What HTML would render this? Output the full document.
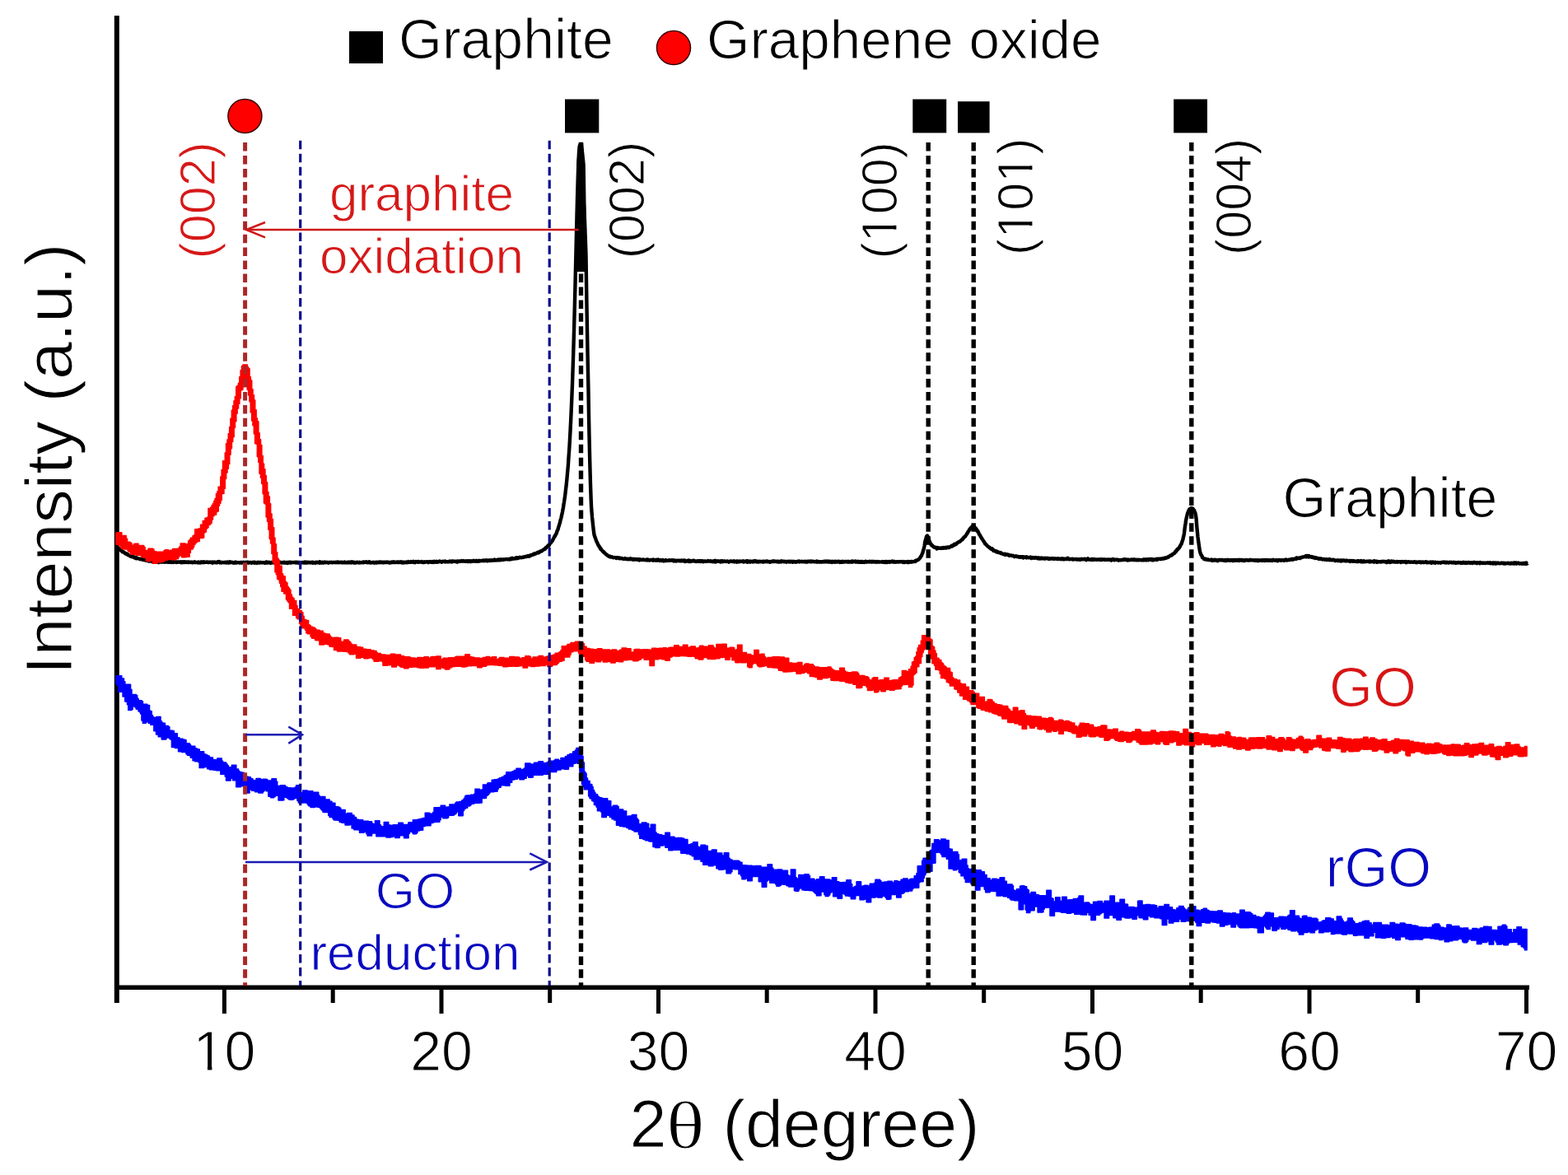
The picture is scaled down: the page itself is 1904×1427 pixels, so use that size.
<!DOCTYPE html>
<html><head><meta charset="utf-8"><title>XRD</title>
<style>
html,body{margin:0;padding:0;background:#fff;}
svg{display:block;filter:blur(0.45px);}
text{font-family:"Liberation Sans", Arial, sans-serif;stroke:#fff;stroke-width:1.1px;paint-order:fill;}
</style></head>
<body>
<svg width="1904" height="1427" viewBox="0 0 1904 1427">
<rect width="1904" height="1427" fill="#fff"/>
<line x1="141.8" y1="19" x2="141.8" y2="1218" stroke="#000" stroke-width="6"/>
<line x1="139" y1="1199.2" x2="1857" y2="1199.2" stroke="#000" stroke-width="5.6"/>
<line x1="272.4" y1="1199" x2="272.4" y2="1231" stroke="#000" stroke-width="5"/>
<line x1="404.2" y1="1199" x2="404.2" y2="1218" stroke="#000" stroke-width="5"/>
<line x1="536.0" y1="1199" x2="536.0" y2="1231" stroke="#000" stroke-width="5"/>
<line x1="667.7" y1="1199" x2="667.7" y2="1218" stroke="#000" stroke-width="5"/>
<line x1="799.5" y1="1199" x2="799.5" y2="1231" stroke="#000" stroke-width="5"/>
<line x1="931.2" y1="1199" x2="931.2" y2="1218" stroke="#000" stroke-width="5"/>
<line x1="1063.0" y1="1199" x2="1063.0" y2="1231" stroke="#000" stroke-width="5"/>
<line x1="1194.7" y1="1199" x2="1194.7" y2="1218" stroke="#000" stroke-width="5"/>
<line x1="1326.5" y1="1199" x2="1326.5" y2="1231" stroke="#000" stroke-width="5"/>
<line x1="1458.2" y1="1199" x2="1458.2" y2="1218" stroke="#000" stroke-width="5"/>
<line x1="1590.0" y1="1199" x2="1590.0" y2="1231" stroke="#000" stroke-width="5"/>
<line x1="1721.7" y1="1199" x2="1721.7" y2="1218" stroke="#000" stroke-width="5"/>
<line x1="1853.5" y1="1199" x2="1853.5" y2="1231" stroke="#000" stroke-width="5"/>
<text x="272.4" y="1300" text-anchor="middle" font-size="68">10</text>
<text x="536.0" y="1300" text-anchor="middle" font-size="68">20</text>
<text x="799.5" y="1300" text-anchor="middle" font-size="68">30</text>
<text x="1063.0" y="1300" text-anchor="middle" font-size="68">40</text>
<text x="1326.5" y="1300" text-anchor="middle" font-size="68">50</text>
<text x="1590.0" y="1300" text-anchor="middle" font-size="68">60</text>
<text x="1853.5" y="1300" text-anchor="middle" font-size="68">70</text>
<path d="M141.0 662.9L141.5 663.5L142.0 663.9L142.5 664.2L143.0 664.9L143.5 665.2L144.0 666.0L144.5 666.9L145.0 666.8L145.5 667.2L146.0 668.0L146.5 668.4L147.0 668.7L147.5 668.8L148.0 669.5L148.5 670.1L149.0 669.8L149.5 670.4L150.0 670.3L150.5 670.8L151.0 671.0L151.5 671.8L152.0 671.7L152.5 672.5L153.0 672.7L153.5 672.9L154.0 672.5L154.5 673.3L155.0 673.7L155.5 674.0L156.0 673.8L156.5 674.3L157.0 674.4L157.5 674.7L158.0 675.4L158.5 675.1L159.0 675.5L159.5 676.0L160.0 675.7L160.5 676.0L161.0 676.3L161.5 676.4L162.0 676.2L162.5 676.8L163.0 677.3L163.5 676.6L164.0 677.5L164.5 677.4L165.0 677.3L165.5 678.2L166.0 678.0L166.5 677.5L167.0 678.1L167.5 678.3L168.0 678.2L168.5 678.6L169.0 678.5L169.5 678.9L170.0 679.2L170.5 678.7L171.0 679.1L171.5 679.0L172.0 679.3L172.5 679.0L173.0 679.3L173.5 679.5L174.0 680.0L174.5 680.1L175.0 679.5L175.5 679.8L176.0 680.3L176.5 679.6L177.0 680.2L177.5 680.4L178.0 680.9L178.5 680.9L179.0 680.7L179.5 680.8L180.0 680.9L180.5 681.5L181.0 681.1L181.5 681.2L182.0 681.5L182.5 681.5L183.0 681.5L183.5 681.4L184.0 681.8L184.5 681.7L185.0 682.3L185.5 682.2L186.0 682.1L186.5 682.3L187.0 682.1L187.5 682.6L188.0 682.3L188.5 682.5L189.0 682.0L189.5 682.5L190.0 681.9L190.5 681.8L191.0 682.3L191.5 682.1L192.0 682.5L192.5 683.1L193.0 682.2L193.5 682.2L194.0 682.5L194.5 682.6L195.0 682.4L195.5 682.4L196.0 682.7L196.5 682.6L197.0 682.2L197.5 682.4L198.0 682.5L198.5 682.2L199.0 682.6L199.5 682.2L200.0 682.8L200.5 682.6L201.0 682.5L201.5 682.3L202.0 682.5L202.5 681.9L203.0 682.2L203.5 682.6L204.0 681.9L204.5 682.8L205.0 682.0L205.5 682.8L206.0 682.3L206.5 682.8L207.0 682.6L207.5 682.1L208.0 683.0L208.5 683.0L209.0 682.6L209.5 682.5L210.0 682.6L210.5 682.3L211.0 682.9L211.5 682.5L212.0 682.6L212.5 682.4L213.0 682.5L213.5 682.3L214.0 683.0L214.5 682.6L215.0 682.9L215.5 682.7L216.0 682.5L216.5 682.6L217.0 682.5L217.5 682.7L218.0 682.6L218.5 682.6L219.0 682.3L219.5 682.5L220.0 683.2L220.5 682.5L221.0 682.4L221.5 682.8L222.0 683.1L222.5 682.3L223.0 682.7L223.5 682.5L224.0 682.2L224.5 683.0L225.0 682.7L225.5 682.8L226.0 682.5L226.5 682.9L227.0 682.6L227.5 682.7L228.0 682.4L228.5 682.4L229.0 683.2L229.5 682.6L230.0 682.9L230.5 682.8L231.0 682.7L231.5 682.7L232.0 683.0L232.5 682.7L233.0 682.8L233.5 682.8L234.0 683.2L234.5 683.0L235.0 682.9L235.5 682.7L236.0 682.4L236.5 683.1L237.0 683.1L237.5 682.8L238.0 683.0L238.5 683.1L239.0 683.1L239.5 683.1L240.0 682.7L240.5 683.3L241.0 682.5L241.5 683.1L242.0 683.0L242.5 683.1L243.0 683.5L243.5 683.3L244.0 682.6L244.5 682.4L245.0 683.2L245.5 682.6L246.0 682.9L246.5 683.2L247.0 682.4L247.5 682.3L248.0 683.0L248.5 682.9L249.0 682.9L249.5 682.9L250.0 682.7L250.5 682.5L251.0 682.9L251.5 682.7L252.0 682.5L252.5 683.1L253.0 682.9L253.5 683.1L254.0 682.7L254.5 682.8L255.0 682.7L255.5 682.7L256.0 683.0L256.5 682.7L257.0 683.1L257.5 683.1L258.0 683.6L258.5 682.6L259.0 683.3L259.5 683.0L260.0 683.0L260.5 682.6L261.0 682.9L261.5 683.2L262.0 683.0L262.5 683.0L263.0 682.9L263.5 683.4L264.0 683.0L264.5 682.4L265.0 682.8L265.5 682.4L266.0 682.1L266.5 682.9L267.0 683.4L267.5 683.1L268.0 682.7L268.5 682.8L269.0 683.4L269.5 683.1L270.0 683.1L270.5 683.0L271.0 683.1L271.5 683.3L272.0 683.2L272.5 683.1L273.0 682.8L273.5 683.2L274.0 682.9L274.5 683.4L275.0 682.7L275.5 683.0L276.0 683.1L276.5 682.7L277.0 683.6L277.5 683.5L278.0 682.9L278.5 683.3L279.0 683.2L279.5 682.3L280.0 683.2L280.5 683.1L281.0 683.1L281.5 682.8L282.0 683.0L282.5 683.1L283.0 683.5L283.5 683.2L284.0 683.1L284.5 683.6L285.0 682.9L285.5 683.0L286.0 682.6L286.5 683.6L287.0 683.4L287.5 683.4L288.0 683.3L288.5 683.2L289.0 683.2L289.5 683.1L290.0 683.1L290.5 683.2L291.0 683.6L291.5 683.3L292.0 683.1L292.5 683.0L293.0 683.0L293.5 683.6L294.0 683.3L294.5 683.2L295.0 683.0L295.5 682.8L296.0 683.1L296.5 683.4L297.0 683.0L297.5 683.1L298.0 683.1L298.5 683.2L299.0 682.7L299.5 683.1L300.0 682.9L300.5 683.4L301.0 682.9L301.5 683.3L302.0 683.6L302.5 683.1L303.0 683.0L303.5 683.2L304.0 683.2L304.5 682.9L305.0 683.3L305.5 683.8L306.0 683.1L306.5 683.1L307.0 682.9L307.5 683.3L308.0 682.8L308.5 682.9L309.0 683.6L309.5 682.9L310.0 683.5L310.5 683.6L311.0 683.3L311.5 683.4L312.0 683.8L312.5 683.1L313.0 683.0L313.5 682.8L314.0 683.2L314.5 683.6L315.0 683.5L315.5 682.9L316.0 682.9L316.5 683.0L317.0 683.3L317.5 683.1L318.0 683.3L318.5 683.3L319.0 683.1L319.5 683.2L320.0 683.3L320.5 683.2L321.0 683.4L321.5 683.8L322.0 683.4L322.5 683.2L323.0 682.7L323.5 683.3L324.0 682.6L324.5 682.8L325.0 683.5L325.5 683.4L326.0 683.2L326.5 682.7L327.0 683.1L327.5 683.0L328.0 683.4L328.5 683.9L329.0 683.3L329.5 683.0L330.0 682.9L330.5 683.2L331.0 683.2L331.5 682.9L332.0 683.3L332.5 682.9L333.0 683.6L333.5 683.5L334.0 683.5L334.5 683.1L335.0 683.4L335.5 683.2L336.0 683.1L336.5 683.1L337.0 682.8L337.5 682.8L338.0 683.5L338.5 683.2L339.0 683.3L339.5 683.5L340.0 682.7L340.5 683.0L341.0 683.3L341.5 683.3L342.0 683.1L342.5 683.5L343.0 683.3L343.5 682.9L344.0 682.9L344.5 683.5L345.0 683.4L345.5 682.7L346.0 683.6L346.5 683.4L347.0 683.6L347.5 683.1L348.0 683.1L348.5 682.9L349.0 684.0L349.5 683.2L350.0 683.7L350.5 683.0L351.0 683.3L351.5 682.7L352.0 683.1L352.5 683.5L353.0 682.9L353.5 683.5L354.0 683.3L354.5 682.9L355.0 683.1L355.5 683.1L356.0 683.2L356.5 683.1L357.0 683.0L357.5 683.1L358.0 682.9L358.5 682.8L359.0 683.2L359.5 683.5L360.0 682.8L360.5 683.2L361.0 683.0L361.5 682.9L362.0 683.5L362.5 683.1L363.0 683.7L363.5 683.0L364.0 683.3L364.5 683.2L365.0 683.0L365.5 683.4L366.0 683.2L366.5 683.4L367.0 683.2L367.5 682.9L368.0 683.2L368.5 683.2L369.0 683.5L369.5 682.9L370.0 683.2L370.5 682.7L371.0 683.4L371.5 682.9L372.0 682.7L372.5 683.2L373.0 683.5L373.5 682.8L374.0 682.9L374.5 683.0L375.0 682.9L375.5 683.3L376.0 683.0L376.5 683.0L377.0 683.4L377.5 683.0L378.0 683.3L378.5 682.9L379.0 682.8L379.5 682.7L380.0 683.8L380.5 683.1L381.0 683.3L381.5 683.2L382.0 683.2L382.5 683.2L383.0 683.8L383.5 682.9L384.0 682.7L384.5 682.9L385.0 682.8L385.5 683.4L386.0 683.4L386.5 682.9L387.0 682.8L387.5 683.1L388.0 683.6L388.5 682.3L389.0 683.3L389.5 682.9L390.0 683.5L390.5 682.9L391.0 683.1L391.5 682.7L392.0 682.9L392.5 683.6L393.0 683.4L393.5 683.1L394.0 682.9L394.5 682.6L395.0 683.1L395.5 683.2L396.0 683.2L396.5 683.1L397.0 682.8L397.5 683.2L398.0 683.2L398.5 683.6L399.0 683.7L399.5 683.1L400.0 682.9L400.5 683.1L401.0 683.0L401.5 682.9L402.0 683.1L402.5 682.8L403.0 683.3L403.5 683.1L404.0 683.2L404.5 683.1L405.0 682.9L405.5 682.9L406.0 683.1L406.5 683.0L407.0 683.2L407.5 683.1L408.0 682.7L408.5 683.2L409.0 682.7L409.5 683.0L410.0 683.1L410.5 682.5L411.0 683.2L411.5 683.2L412.0 683.1L412.5 683.0L413.0 683.0L413.5 682.8L414.0 683.1L414.5 683.0L415.0 683.2L415.5 682.8L416.0 683.2L416.5 683.2L417.0 683.1L417.5 683.0L418.0 683.3L418.5 682.6L419.0 683.3L419.5 683.2L420.0 683.2L420.5 683.2L421.0 682.9L421.5 683.0L422.0 683.3L422.5 683.2L423.0 683.2L423.5 682.6L424.0 683.3L424.5 683.4L425.0 683.4L425.5 683.2L426.0 682.6L426.5 683.4L427.0 683.0L427.5 682.3L428.0 683.2L428.5 682.6L429.0 682.7L429.5 682.9L430.0 683.5L430.5 683.0L431.0 683.2L431.5 683.6L432.0 683.5L432.5 683.0L433.0 683.0L433.5 682.7L434.0 682.9L434.5 683.2L435.0 683.2L435.5 683.1L436.0 683.4L436.5 682.8L437.0 683.0L437.5 683.3L438.0 683.2L438.5 683.4L439.0 683.2L439.5 682.9L440.0 683.1L440.5 682.7L441.0 682.5L441.5 683.2L442.0 683.0L442.5 683.1L443.0 682.5L443.5 682.9L444.0 682.8L444.5 682.8L445.0 682.3L445.5 682.9L446.0 683.3L446.5 683.1L447.0 682.8L447.5 683.0L448.0 683.2L448.5 682.2L449.0 683.0L449.5 683.2L450.0 683.2L450.5 683.5L451.0 683.3L451.5 683.1L452.0 683.1L452.5 683.2L453.0 682.8L453.5 683.0L454.0 683.2L454.5 683.6L455.0 682.9L455.5 682.9L456.0 683.0L456.5 683.4L457.0 682.9L457.5 683.4L458.0 682.7L458.5 682.9L459.0 682.9L459.5 683.2L460.0 683.2L460.5 682.5L461.0 682.7L461.5 683.0L462.0 682.7L462.5 682.5L463.0 683.2L463.5 683.1L464.0 683.1L464.5 682.8L465.0 683.2L465.5 682.8L466.0 683.2L466.5 682.6L467.0 682.6L467.5 683.0L468.0 682.7L468.5 683.1L469.0 683.0L469.5 682.6L470.0 682.9L470.5 682.8L471.0 683.1L471.5 682.7L472.0 682.7L472.5 683.2L473.0 683.5L473.5 683.5L474.0 682.9L474.5 682.9L475.0 683.3L475.5 682.8L476.0 682.5L476.5 682.9L477.0 683.0L477.5 682.6L478.0 682.3L478.5 682.4L479.0 683.0L479.5 682.6L480.0 682.8L480.5 682.9L481.0 683.0L481.5 682.7L482.0 682.9L482.5 682.5L483.0 682.7L483.5 682.5L484.0 683.1L484.5 682.8L485.0 682.5L485.5 682.7L486.0 682.7L486.5 683.0L487.0 682.3L487.5 682.4L488.0 682.6L488.5 683.5L489.0 683.0L489.5 682.7L490.0 682.9L490.5 683.3L491.0 682.6L491.5 682.6L492.0 683.1L492.5 682.9L493.0 682.9L493.5 682.5L494.0 683.3L494.5 683.2L495.0 682.9L495.5 682.9L496.0 682.1L496.5 682.9L497.0 682.6L497.5 682.8L498.0 682.9L498.5 682.6L499.0 682.1L499.5 682.8L500.0 682.4L500.5 682.5L501.0 682.4L501.5 682.5L502.0 681.9L502.5 683.0L503.0 682.7L503.5 682.9L504.0 683.2L504.5 682.6L505.0 682.0L505.5 682.3L506.0 682.2L506.5 682.4L507.0 682.6L507.5 682.0L508.0 682.7L508.5 682.1L509.0 682.6L509.5 682.5L510.0 682.4L510.5 682.5L511.0 682.4L511.5 682.3L512.0 682.0L512.5 682.5L513.0 683.1L513.5 683.1L514.0 682.9L514.5 682.7L515.0 682.3L515.5 682.9L516.0 682.5L516.5 682.4L517.0 682.4L517.5 682.5L518.0 682.3L518.5 682.4L519.0 682.1L519.5 682.3L520.0 683.1L520.5 682.4L521.0 682.3L521.5 682.6L522.0 682.6L522.5 682.1L523.0 682.3L523.5 682.7L524.0 682.5L524.5 682.4L525.0 682.8L525.5 682.1L526.0 682.4L526.5 682.2L527.0 682.8L527.5 681.7L528.0 682.1L528.5 682.2L529.0 682.5L529.5 682.5L530.0 682.7L530.5 681.8L531.0 682.5L531.5 682.2L532.0 682.1L532.5 682.4L533.0 682.0L533.5 681.6L534.0 682.1L534.5 681.8L535.0 682.0L535.5 682.3L536.0 682.3L536.5 682.7L537.0 682.1L537.5 681.7L538.0 681.9L538.5 681.9L539.0 681.8L539.5 682.3L540.0 681.9L540.5 681.5L541.0 682.3L541.5 682.1L542.0 682.2L542.5 682.1L543.0 682.3L543.5 682.1L544.0 682.4L544.5 682.2L545.0 682.2L545.5 682.2L546.0 681.6L546.5 682.0L547.0 681.9L547.5 682.1L548.0 681.6L548.5 682.5L549.0 682.0L549.5 681.6L550.0 681.4L550.5 681.9L551.0 681.9L551.5 681.7L552.0 681.9L552.5 681.7L553.0 682.1L553.5 681.7L554.0 681.9L554.5 682.2L555.0 682.6L555.5 681.5L556.0 681.7L556.5 681.6L557.0 682.0L557.5 681.5L558.0 681.6L558.5 681.8L559.0 681.5L559.5 681.5L560.0 681.6L560.5 681.1L561.0 681.3L561.5 681.6L562.0 681.7L562.5 681.6L563.0 681.1L563.5 681.5L564.0 681.9L564.5 681.8L565.0 681.6L565.5 681.3L566.0 681.8L566.5 681.4L567.0 681.2L567.5 681.3L568.0 682.0L568.5 681.6L569.0 681.9L569.5 681.4L570.0 681.8L570.5 681.3L571.0 681.4L571.5 682.2L572.0 681.7L572.5 681.3L573.0 681.4L573.5 681.5L574.0 681.7L574.5 681.2L575.0 680.8L575.5 681.2L576.0 681.3L576.5 681.3L577.0 681.7L577.5 681.4L578.0 681.5L578.5 680.9L579.0 681.5L579.5 681.8L580.0 681.4L580.5 681.2L581.0 681.2L581.5 681.7L582.0 680.8L582.5 681.1L583.0 681.2L583.5 681.3L584.0 680.9L584.5 681.1L585.0 680.9L585.5 681.0L586.0 680.9L586.5 680.6L587.0 680.9L587.5 681.2L588.0 680.6L588.5 680.8L589.0 681.0L589.5 680.5L590.0 680.8L590.5 680.4L591.0 681.1L591.5 681.4L592.0 681.3L592.5 680.6L593.0 680.9L593.5 680.7L594.0 680.6L594.5 681.0L595.0 680.2L595.5 680.8L596.0 680.5L596.5 680.9L597.0 680.5L597.5 680.2L598.0 680.5L598.5 680.6L599.0 680.3L599.5 680.5L600.0 680.1L600.5 679.6L601.0 680.5L601.5 680.4L602.0 680.2L602.5 680.2L603.0 680.4L603.5 679.9L604.0 679.8L604.5 680.0L605.0 680.3L605.5 679.5L606.0 680.3L606.5 679.7L607.0 679.5L607.5 680.2L608.0 679.7L608.5 679.3L609.0 679.6L609.5 679.9L610.0 680.0L610.5 679.5L611.0 679.7L611.5 679.7L612.0 679.3L612.5 679.5L613.0 679.4L613.5 679.2L614.0 679.2L614.5 679.3L615.0 679.2L615.5 679.0L616.0 679.0L616.5 679.4L617.0 679.1L617.5 679.2L618.0 679.3L618.5 679.1L619.0 679.5L619.5 678.5L620.0 679.0L620.5 678.6L621.0 679.2L621.5 679.1L622.0 677.9L622.5 678.2L623.0 678.6L623.5 678.6L624.0 678.5L624.5 678.2L625.0 678.3L625.5 678.3L626.0 678.0L626.5 678.3L627.0 677.2L627.5 678.0L628.0 677.4L628.5 678.0L629.0 677.5L629.5 677.3L630.0 677.6L630.5 677.1L631.0 677.0L631.5 676.8L632.0 677.1L632.5 677.2L633.0 677.3L633.5 676.9L634.0 677.1L634.5 676.7L635.0 676.6L635.5 676.7L636.0 676.8L636.5 676.2L637.0 676.2L637.5 676.1L638.0 676.1L638.5 675.7L639.0 676.1L639.5 675.6L640.0 675.7L640.5 675.2L641.0 675.5L641.5 675.4L642.0 675.0L642.5 675.6L643.0 675.0L643.5 675.3L644.0 674.9L644.5 674.2L645.0 674.2L645.5 674.3L646.0 674.0L646.5 673.9L647.0 673.6L647.5 673.0L648.0 673.3L648.5 672.5L649.0 673.1L649.5 672.6L650.0 672.4L650.5 672.4L651.0 672.3L651.5 671.6L652.0 671.3L652.5 671.3L653.0 670.8L653.5 670.9L654.0 671.4L654.5 670.4L655.0 670.6L655.5 669.8L656.0 670.0L656.5 669.6L657.0 669.4L657.5 669.3L658.0 669.3L658.5 668.6L659.0 668.2L659.5 667.6L660.0 667.7L660.5 667.1L661.0 667.1L661.5 666.4L662.0 666.6L662.5 665.1L663.0 665.2L663.5 665.1L664.0 664.3L664.5 663.7L665.0 663.4L665.5 662.5L666.0 662.5L666.5 662.7L667.0 661.7L667.5 660.5L668.0 659.9L668.5 659.5L669.0 659.3L669.5 658.0L670.0 657.4L670.5 657.1L671.0 656.4L671.5 655.2L672.0 654.2L672.5 653.2L673.0 652.5L673.5 651.1L674.0 651.1L674.5 649.6L675.0 648.9L675.5 648.2L676.0 646.8L676.5 644.8L677.0 644.1L677.5 642.9L678.0 640.9L678.5 639.3L679.0 637.9L679.5 635.8L680.0 634.9L680.5 631.9L681.0 630.3L681.5 628.5L682.0 626.3L682.5 624.0L683.0 621.6L683.5 618.8L684.0 616.4L684.5 612.4L685.0 609.8L685.5 606.2L686.0 602.9L686.5 599.0L687.0 594.5L687.5 590.2L688.0 585.9L688.5 580.7L689.0 574.9L689.5 569.9L690.0 563.6L690.5 555.7L691.0 548.9L691.5 541.7L692.0 532.7L692.5 523.4L693.0 513.4L693.5 502.7L694.0 491.3L694.5 478.9L695.0 466.0L695.5 451.3L696.0 436.0L696.5 419.5L697.0 402.5L697.5 383.9L698.0 364.8L698.5 345.1L699.0 324.2L699.5 303.3L700.0 282.2L700.5 261.6L701.0 241.9L701.5 223.8L702.0 208.2L702.5 194.5L703.0 185.3L703.5 178.8L704.0 176.5L704.5 182.7L705.0 188.6L705.5 194.8L706.0 200.4L706.5 206.8L707.0 211.9L707.5 221.2L708.0 231.3L708.5 240.2L709.0 250.0L709.5 259.3L710.0 268.0L710.5 281.3L711.0 295.0L711.5 308.8L712.0 341.6L712.5 371.7L713.0 399.6L713.5 428.0L714.0 452.9L714.5 475.3L715.0 504.5L715.5 529.7L716.0 550.9L716.5 570.9L717.0 588.2L717.5 602.4L718.0 614.8L718.5 621.4L719.0 627.9L719.5 632.2L720.0 637.3L720.5 641.6L721.0 645.7L721.5 649.4L722.0 651.1L722.5 652.5L723.0 653.6L723.5 655.1L724.0 656.7L724.5 657.8L725.0 658.6L725.5 659.8L726.0 661.0L726.5 662.1L727.0 662.7L727.5 663.7L728.0 664.0L728.5 665.1L729.0 666.6L729.5 666.1L730.0 667.3L730.5 668.0L731.0 668.4L731.5 668.8L732.0 669.6L732.5 670.1L733.0 670.6L733.5 670.5L734.0 671.5L734.5 671.7L735.0 672.2L735.5 672.8L736.0 673.3L736.5 673.8L737.0 673.7L737.5 674.5L738.0 674.9L738.5 675.2L739.0 675.5L739.5 675.4L740.0 675.6L740.5 676.2L741.0 675.8L741.5 676.5L742.0 676.5L742.5 676.6L743.0 676.2L743.5 676.6L744.0 676.9L744.5 677.2L745.0 677.3L745.5 677.1L746.0 677.1L746.5 677.0L747.0 677.4L747.5 677.3L748.0 677.6L748.5 678.0L749.0 677.5L749.5 677.1L750.0 677.4L750.5 677.3L751.0 677.4L751.5 678.2L752.0 677.9L752.5 677.5L753.0 678.2L753.5 678.4L754.0 678.0L754.5 677.9L755.0 678.1L755.5 678.3L756.0 678.5L756.5 678.7L757.0 678.7L757.5 678.8L758.0 678.9L758.5 678.7L759.0 678.1L759.5 678.6L760.0 678.8L760.5 678.6L761.0 679.0L761.5 678.7L762.0 678.6L762.5 679.3L763.0 679.1L763.5 679.0L764.0 679.2L764.5 679.3L765.0 679.1L765.5 678.3L766.0 678.9L766.5 679.0L767.0 678.8L767.5 679.2L768.0 679.5L768.5 679.0L769.0 678.9L769.5 679.8L770.0 679.1L770.5 678.9L771.0 679.4L771.5 679.4L772.0 679.1L772.5 679.6L773.0 679.2L773.5 679.1L774.0 679.5L774.5 679.7L775.0 679.3L775.5 679.6L776.0 679.5L776.5 680.4L777.0 679.3L777.5 680.0L778.0 679.6L778.5 679.6L779.0 679.8L779.5 679.9L780.0 680.0L780.5 679.8L781.0 679.5L781.5 679.6L782.0 679.9L782.5 679.9L783.0 680.2L783.5 679.9L784.0 680.1L784.5 680.3L785.0 679.9L785.5 679.4L786.0 679.5L786.5 679.5L787.0 680.4L787.5 679.7L788.0 680.3L788.5 680.2L789.0 680.5L789.5 680.3L790.0 680.0L790.5 680.0L791.0 680.1L791.5 680.1L792.0 679.9L792.5 680.1L793.0 680.6L793.5 679.6L794.0 680.3L794.5 679.9L795.0 680.3L795.5 680.5L796.0 680.2L796.5 680.5L797.0 679.8L797.5 680.6L798.0 680.1L798.5 680.5L799.0 680.4L799.5 679.6L800.0 680.1L800.5 680.4L801.0 680.9L801.5 680.5L802.0 680.5L802.5 680.0L803.0 680.9L803.5 681.0L804.0 680.5L804.5 680.4L805.0 680.0L805.5 680.8L806.0 681.4L806.5 680.8L807.0 681.0L807.5 680.8L808.0 680.3L808.5 681.0L809.0 680.3L809.5 680.6L810.0 680.7L810.5 680.9L811.0 680.8L811.5 680.8L812.0 680.5L812.5 680.3L813.0 680.8L813.5 680.5L814.0 680.4L814.5 680.4L815.0 680.6L815.5 680.2L816.0 680.4L816.5 680.3L817.0 680.9L817.5 681.0L818.0 681.5L818.5 680.4L819.0 680.7L819.5 681.2L820.0 680.9L820.5 680.8L821.0 681.5L821.5 680.9L822.0 680.6L822.5 680.6L823.0 681.1L823.5 681.1L824.0 680.6L824.5 680.7L825.0 681.2L825.5 681.2L826.0 680.9L826.5 681.3L827.0 681.3L827.5 680.6L828.0 681.0L828.5 681.2L829.0 681.0L829.5 680.5L830.0 681.1L830.5 681.4L831.0 681.6L831.5 680.5L832.0 682.0L832.5 680.9L833.0 681.5L833.5 681.6L834.0 681.5L834.5 681.3L835.0 680.9L835.5 681.5L836.0 681.1L836.5 680.5L837.0 682.1L837.5 681.5L838.0 681.9L838.5 681.1L839.0 681.8L839.5 681.8L840.0 681.8L840.5 681.4L841.0 681.0L841.5 681.3L842.0 680.7L842.5 680.9L843.0 681.4L843.5 681.1L844.0 681.4L844.5 681.4L845.0 682.0L845.5 681.9L846.0 681.5L846.5 681.8L847.0 681.3L847.5 681.4L848.0 681.8L848.5 681.2L849.0 681.4L849.5 681.1L850.0 681.6L850.5 682.0L851.0 681.3L851.5 681.6L852.0 681.3L852.5 681.2L853.0 681.2L853.5 682.0L854.0 682.3L854.5 681.8L855.0 681.4L855.5 681.8L856.0 681.5L856.5 681.9L857.0 681.7L857.5 681.7L858.0 681.8L858.5 681.5L859.0 681.5L859.5 681.1L860.0 681.5L860.5 681.2L861.0 681.6L861.5 681.4L862.0 681.7L862.5 681.8L863.0 681.2L863.5 681.4L864.0 681.4L864.5 681.9L865.0 682.2L865.5 681.9L866.0 681.6L866.5 682.1L867.0 681.2L867.5 682.1L868.0 681.5L868.5 680.9L869.0 682.5L869.5 682.2L870.0 681.4L870.5 681.7L871.0 681.6L871.5 681.7L872.0 681.3L872.5 681.5L873.0 681.9L873.5 681.8L874.0 682.1L874.5 681.7L875.0 682.4L875.5 681.5L876.0 681.8L876.5 681.2L877.0 681.4L877.5 682.1L878.0 681.5L878.5 681.9L879.0 681.7L879.5 681.4L880.0 681.6L880.5 681.6L881.0 681.6L881.5 682.0L882.0 682.0L882.5 681.6L883.0 681.5L883.5 681.8L884.0 681.7L884.5 682.1L885.0 682.6L885.5 682.0L886.0 681.8L886.5 681.7L887.0 681.5L887.5 681.5L888.0 681.5L888.5 681.7L889.0 681.7L889.5 682.0L890.0 681.7L890.5 681.7L891.0 681.4L891.5 682.3L892.0 682.0L892.5 682.3L893.0 682.0L893.5 682.3L894.0 681.7L894.5 682.0L895.0 682.6L895.5 681.5L896.0 682.2L896.5 682.3L897.0 682.0L897.5 682.1L898.0 682.2L898.5 681.6L899.0 682.0L899.5 681.6L900.0 681.6L900.5 681.7L901.0 681.8L901.5 681.9L902.0 682.0L902.5 681.4L903.0 682.5L903.5 682.2L904.0 682.1L904.5 681.8L905.0 681.8L905.5 682.0L906.0 682.0L906.5 681.4L907.0 682.1L907.5 682.8L908.0 681.3L908.5 682.2L909.0 682.0L909.5 681.9L910.0 682.3L910.5 681.5L911.0 681.9L911.5 682.4L912.0 681.8L912.5 681.8L913.0 681.9L913.5 681.8L914.0 682.4L914.5 681.6L915.0 682.2L915.5 681.5L916.0 682.1L916.5 681.9L917.0 681.1L917.5 681.9L918.0 681.6L918.5 681.8L919.0 682.4L919.5 681.6L920.0 681.6L920.5 682.4L921.0 682.0L921.5 682.4L922.0 682.0L922.5 681.7L923.0 681.9L923.5 682.3L924.0 682.2L924.5 682.0L925.0 682.0L925.5 681.9L926.0 681.8L926.5 682.6L927.0 682.0L927.5 681.6L928.0 681.8L928.5 682.2L929.0 682.2L929.5 681.9L930.0 681.8L930.5 682.0L931.0 681.5L931.5 681.6L932.0 682.2L932.5 681.8L933.0 682.1L933.5 682.4L934.0 682.2L934.5 682.0L935.0 682.7L935.5 682.2L936.0 681.9L936.5 682.2L937.0 682.1L937.5 681.8L938.0 682.0L938.5 682.0L939.0 681.4L939.5 682.0L940.0 681.9L940.5 681.9L941.0 681.5L941.5 681.9L942.0 682.0L942.5 682.1L943.0 681.7L943.5 682.2L944.0 681.7L944.5 682.0L945.0 682.5L945.5 681.8L946.0 681.9L946.5 682.4L947.0 681.9L947.5 682.0L948.0 682.1L948.5 682.4L949.0 681.4L949.5 681.8L950.0 681.8L950.5 681.7L951.0 681.8L951.5 681.8L952.0 682.2L952.5 681.8L953.0 682.1L953.5 682.2L954.0 681.9L954.5 682.1L955.0 682.6L955.5 682.2L956.0 681.9L956.5 682.1L957.0 681.8L957.5 682.2L958.0 682.4L958.5 681.8L959.0 682.0L959.5 682.4L960.0 682.0L960.5 682.2L961.0 681.8L961.5 681.9L962.0 682.0L962.5 682.8L963.0 682.0L963.5 682.0L964.0 681.9L964.5 682.1L965.0 682.3L965.5 682.2L966.0 682.7L966.5 682.2L967.0 682.6L967.5 682.2L968.0 682.3L968.5 681.7L969.0 682.1L969.5 682.1L970.0 682.1L970.5 681.5L971.0 682.4L971.5 682.0L972.0 682.0L972.5 682.1L973.0 682.1L973.5 682.3L974.0 681.8L974.5 681.9L975.0 682.2L975.5 682.2L976.0 682.0L976.5 682.0L977.0 681.9L977.5 682.1L978.0 682.5L978.5 681.8L979.0 682.6L979.5 682.4L980.0 682.0L980.5 682.4L981.0 681.7L981.5 681.6L982.0 681.8L982.5 682.0L983.0 682.1L983.5 682.0L984.0 682.2L984.5 681.5L985.0 682.3L985.5 681.8L986.0 682.0L986.5 682.1L987.0 681.8L987.5 681.8L988.0 681.9L988.5 682.2L989.0 682.4L989.5 682.4L990.0 681.9L990.5 681.9L991.0 681.9L991.5 682.3L992.0 681.6L992.5 682.6L993.0 682.0L993.5 682.0L994.0 682.3L994.5 682.5L995.0 682.3L995.5 682.5L996.0 682.2L996.5 682.6L997.0 682.6L997.5 682.2L998.0 682.6L998.5 682.2L999.0 682.2L999.5 681.9L1000.0 682.1L1000.5 682.4L1001.0 681.8L1001.5 682.4L1002.0 682.3L1002.5 682.3L1003.0 681.5L1003.5 682.2L1004.0 682.4L1004.5 682.0L1005.0 682.2L1005.5 681.5L1006.0 682.4L1006.5 682.0L1007.0 682.5L1007.5 681.7L1008.0 682.4L1008.5 682.1L1009.0 682.5L1009.5 681.9L1010.0 682.0L1010.5 682.9L1011.0 682.0L1011.5 682.0L1012.0 682.1L1012.5 681.9L1013.0 682.6L1013.5 682.7L1014.0 682.0L1014.5 681.7L1015.0 682.6L1015.5 682.6L1016.0 682.5L1016.5 682.6L1017.0 682.0L1017.5 682.2L1018.0 681.8L1018.5 681.8L1019.0 682.5L1019.5 682.0L1020.0 682.9L1020.5 682.2L1021.0 682.0L1021.5 682.5L1022.0 682.8L1022.5 682.4L1023.0 681.9L1023.5 682.3L1024.0 682.6L1024.5 682.1L1025.0 682.0L1025.5 682.5L1026.0 682.3L1026.5 681.9L1027.0 682.1L1027.5 682.0L1028.0 682.3L1028.5 682.3L1029.0 682.6L1029.5 682.5L1030.0 681.8L1030.5 682.4L1031.0 682.5L1031.5 682.4L1032.0 682.6L1032.5 682.1L1033.0 682.0L1033.5 682.5L1034.0 681.9L1034.5 681.6L1035.0 682.6L1035.5 682.0L1036.0 682.2L1036.5 681.8L1037.0 681.8L1037.5 681.9L1038.0 682.1L1038.5 682.4L1039.0 681.6L1039.5 682.5L1040.0 681.9L1040.5 681.9L1041.0 682.5L1041.5 682.2L1042.0 681.8L1042.5 682.8L1043.0 682.0L1043.5 682.3L1044.0 682.3L1044.5 682.7L1045.0 682.1L1045.5 682.6L1046.0 682.0L1046.5 682.6L1047.0 682.0L1047.5 682.2L1048.0 682.8L1048.5 682.4L1049.0 682.3L1049.5 682.9L1050.0 682.4L1050.5 682.0L1051.0 682.5L1051.5 681.9L1052.0 682.6L1052.5 682.6L1053.0 682.1L1053.5 682.1L1054.0 682.3L1054.5 682.3L1055.0 682.0L1055.5 682.4L1056.0 681.7L1056.5 682.1L1057.0 682.2L1057.5 682.2L1058.0 682.4L1058.5 681.9L1059.0 682.5L1059.5 682.2L1060.0 682.1L1060.5 681.9L1061.0 681.9L1061.5 682.4L1062.0 682.0L1062.5 682.3L1063.0 682.6L1063.5 682.6L1064.0 682.7L1064.5 682.2L1065.0 682.0L1065.5 682.6L1066.0 682.4L1066.5 682.6L1067.0 682.3L1067.5 682.6L1068.0 682.5L1068.5 682.5L1069.0 682.4L1069.5 682.4L1070.0 682.4L1070.5 682.4L1071.0 682.6L1071.5 682.1L1072.0 682.8L1072.5 682.3L1073.0 682.6L1073.5 682.3L1074.0 682.2L1074.5 682.9L1075.0 682.2L1075.5 681.9L1076.0 682.1L1076.5 682.2L1077.0 682.9L1077.5 682.4L1078.0 682.6L1078.5 682.0L1079.0 682.4L1079.5 682.5L1080.0 682.8L1080.5 682.1L1081.0 682.5L1081.5 682.4L1082.0 682.0L1082.5 682.3L1083.0 682.2L1083.5 681.6L1084.0 682.5L1084.5 682.5L1085.0 682.2L1085.5 681.9L1086.0 682.7L1086.5 682.4L1087.0 682.6L1087.5 682.7L1088.0 682.2L1088.5 682.6L1089.0 682.2L1089.5 682.3L1090.0 682.3L1090.5 682.3L1091.0 682.6L1091.5 682.3L1092.0 682.3L1092.5 682.2L1093.0 682.4L1093.5 682.0L1094.0 682.2L1094.5 682.3L1095.0 682.1L1095.5 682.3L1096.0 682.1L1096.5 682.9L1097.0 682.7L1097.5 682.5L1098.0 682.3L1098.5 683.0L1099.0 682.4L1099.5 682.3L1100.0 682.4L1100.5 682.4L1101.0 682.7L1101.5 682.3L1102.0 683.0L1102.5 682.1L1103.0 682.5L1103.5 682.0L1104.0 682.9L1104.5 682.2L1105.0 682.3L1105.5 682.6L1106.0 682.7L1106.5 682.0L1107.0 682.2L1107.5 681.9L1108.0 682.4L1108.5 682.3L1109.0 682.1L1109.5 682.0L1110.0 681.9L1110.5 681.7L1111.0 681.9L1111.5 682.0L1112.0 680.7L1112.5 681.0L1113.0 680.7L1113.5 680.7L1114.0 680.1L1114.5 680.0L1115.0 679.4L1115.5 679.5L1116.0 678.8L1116.5 678.2L1117.0 677.8L1117.5 677.0L1118.0 675.9L1118.5 675.7L1119.0 674.6L1119.5 673.3L1120.0 672.3L1120.5 670.9L1121.0 668.7L1121.5 667.1L1122.0 665.7L1122.5 663.1L1123.0 659.7L1123.5 657.0L1124.0 655.2L1124.5 653.5L1125.0 651.6L1125.5 651.1L1126.0 650.5L1126.5 651.3L1127.0 653.1L1127.5 653.9L1128.0 655.3L1128.5 656.9L1129.0 658.3L1129.5 659.3L1130.0 660.4L1130.5 660.8L1131.0 662.2L1131.5 662.4L1132.0 662.3L1132.5 663.0L1133.0 663.6L1133.5 663.8L1134.0 664.5L1134.5 664.7L1135.0 664.4L1135.5 664.8L1136.0 664.7L1136.5 665.4L1137.0 665.5L1137.5 666.5L1138.0 665.8L1138.5 665.2L1139.0 665.7L1139.5 665.9L1140.0 665.5L1140.5 665.6L1141.0 665.7L1141.5 665.9L1142.0 665.7L1142.5 665.5L1143.0 666.0L1143.5 665.5L1144.0 665.5L1144.5 665.2L1145.0 665.3L1145.5 665.7L1146.0 665.0L1146.5 665.4L1147.0 665.6L1147.5 665.2L1148.0 665.3L1148.5 664.8L1149.0 665.5L1149.5 665.4L1150.0 665.0L1150.5 664.4L1151.0 664.5L1151.5 665.0L1152.0 665.1L1152.5 664.6L1153.0 664.7L1153.5 664.0L1154.0 664.0L1154.5 663.8L1155.0 663.7L1155.5 662.9L1156.0 663.5L1156.5 663.3L1157.0 662.3L1157.5 662.0L1158.0 662.3L1158.5 661.7L1159.0 660.9L1159.5 661.5L1160.0 661.0L1160.5 660.6L1161.0 661.0L1161.5 660.1L1162.0 659.5L1162.5 659.5L1163.0 658.8L1163.5 658.6L1164.0 658.6L1164.5 658.0L1165.0 657.7L1165.5 657.9L1166.0 657.3L1166.5 656.9L1167.0 656.4L1167.5 655.9L1168.0 655.8L1168.5 654.9L1169.0 655.0L1169.5 653.6L1170.0 653.3L1170.5 652.5L1171.0 652.2L1171.5 652.0L1172.0 651.7L1172.5 650.5L1173.0 650.1L1173.5 649.3L1174.0 648.5L1174.5 647.6L1175.0 647.1L1175.5 645.7L1176.0 645.4L1176.5 644.5L1177.0 643.5L1177.5 642.7L1178.0 642.0L1178.5 642.4L1179.0 640.8L1179.5 641.1L1180.0 640.3L1180.5 639.5L1181.0 638.9L1181.5 639.3L1182.0 639.4L1182.5 638.7L1183.0 639.3L1183.5 640.2L1184.0 640.6L1184.5 641.8L1185.0 641.8L1185.5 642.9L1186.0 643.0L1186.5 644.8L1187.0 644.7L1187.5 645.1L1188.0 646.6L1188.5 647.5L1189.0 649.0L1189.5 649.2L1190.0 650.1L1190.5 651.1L1191.0 652.2L1191.5 652.6L1192.0 653.7L1192.5 654.4L1193.0 655.0L1193.5 655.9L1194.0 656.7L1194.5 657.2L1195.0 658.6L1195.5 658.6L1196.0 660.1L1196.5 660.6L1197.0 660.9L1197.5 661.3L1198.0 661.9L1198.5 662.6L1199.0 663.2L1199.5 663.5L1200.0 664.1L1200.5 664.1L1201.0 664.7L1201.5 664.6L1202.0 665.6L1202.5 665.8L1203.0 666.0L1203.5 666.8L1204.0 667.0L1204.5 666.2L1205.0 667.4L1205.5 667.2L1206.0 668.2L1206.5 668.9L1207.0 668.3L1207.5 668.7L1208.0 668.8L1208.5 669.2L1209.0 669.6L1209.5 670.0L1210.0 669.5L1210.5 670.5L1211.0 669.9L1211.5 670.5L1212.0 670.9L1212.5 671.0L1213.0 670.7L1213.5 670.9L1214.0 671.2L1214.5 671.5L1215.0 672.0L1215.5 671.4L1216.0 672.1L1216.5 672.3L1217.0 672.4L1217.5 672.6L1218.0 673.0L1218.5 672.9L1219.0 673.1L1219.5 673.1L1220.0 673.6L1220.5 672.7L1221.0 673.7L1221.5 673.4L1222.0 673.5L1222.5 673.4L1223.0 673.2L1223.5 673.8L1224.0 673.8L1224.5 674.3L1225.0 673.8L1225.5 674.7L1226.0 674.5L1226.5 674.4L1227.0 674.4L1227.5 674.5L1228.0 674.5L1228.5 674.7L1229.0 675.0L1229.5 675.0L1230.0 674.7L1230.5 675.2L1231.0 675.1L1231.5 675.5L1232.0 676.1L1232.5 675.8L1233.0 675.6L1233.5 675.2L1234.0 675.4L1234.5 675.4L1235.0 676.2L1235.5 675.8L1236.0 676.1L1236.5 675.9L1237.0 676.2L1237.5 676.7L1238.0 676.1L1238.5 676.2L1239.0 676.1L1239.5 676.7L1240.0 676.2L1240.5 676.2L1241.0 676.1L1241.5 676.1L1242.0 676.7L1242.5 677.4L1243.0 676.4L1243.5 677.0L1244.0 676.8L1244.5 676.5L1245.0 676.7L1245.5 676.8L1246.0 676.7L1246.5 677.5L1247.0 676.4L1247.5 677.1L1248.0 677.1L1248.5 676.9L1249.0 677.1L1249.5 677.4L1250.0 677.2L1250.5 677.3L1251.0 677.4L1251.5 676.6L1252.0 677.7L1252.5 678.0L1253.0 677.6L1253.5 677.7L1254.0 677.0L1254.5 677.4L1255.0 677.2L1255.5 677.3L1256.0 677.8L1256.5 677.3L1257.0 677.5L1257.5 677.0L1258.0 677.5L1258.5 677.6L1259.0 677.4L1259.5 677.5L1260.0 678.3L1260.5 677.4L1261.0 677.4L1261.5 677.5L1262.0 678.2L1262.5 678.5L1263.0 677.9L1263.5 677.7L1264.0 677.8L1264.5 678.2L1265.0 677.7L1265.5 678.4L1266.0 678.4L1266.5 678.0L1267.0 678.2L1267.5 678.3L1268.0 678.5L1268.5 677.8L1269.0 678.5L1269.5 678.0L1270.0 677.9L1270.5 678.2L1271.0 678.1L1271.5 677.9L1272.0 677.8L1272.5 678.0L1273.0 678.7L1273.5 678.9L1274.0 678.5L1274.5 678.7L1275.0 678.2L1275.5 678.3L1276.0 678.5L1276.5 678.1L1277.0 678.1L1277.5 678.5L1278.0 678.3L1278.5 678.1L1279.0 678.6L1279.5 678.4L1280.0 678.8L1280.5 678.5L1281.0 678.5L1281.5 678.6L1282.0 678.5L1282.5 678.4L1283.0 678.5L1283.5 678.8L1284.0 678.8L1284.5 679.0L1285.0 678.2L1285.5 678.6L1286.0 678.6L1286.5 678.8L1287.0 678.6L1287.5 678.6L1288.0 679.0L1288.5 678.8L1289.0 678.4L1289.5 679.2L1290.0 679.1L1290.5 678.6L1291.0 679.1L1291.5 678.6L1292.0 679.2L1292.5 678.8L1293.0 678.6L1293.5 678.8L1294.0 678.7L1294.5 679.0L1295.0 679.0L1295.5 678.9L1296.0 678.8L1296.5 677.8L1297.0 679.0L1297.5 678.4L1298.0 679.0L1298.5 679.3L1299.0 679.1L1299.5 678.9L1300.0 679.0L1300.5 679.0L1301.0 678.9L1301.5 678.9L1302.0 678.8L1302.5 679.4L1303.0 679.1L1303.5 679.4L1304.0 679.0L1304.5 679.1L1305.0 679.1L1305.5 679.3L1306.0 679.4L1306.5 679.2L1307.0 678.9L1307.5 678.9L1308.0 679.7L1308.5 679.1L1309.0 679.1L1309.5 679.6L1310.0 679.5L1310.5 679.4L1311.0 679.1L1311.5 679.9L1312.0 679.3L1312.5 679.4L1313.0 679.2L1313.5 678.8L1314.0 678.9L1314.5 679.4L1315.0 679.4L1315.5 679.2L1316.0 678.9L1316.5 678.9L1317.0 679.2L1317.5 678.9L1318.0 679.6L1318.5 679.7L1319.0 680.2L1319.5 679.6L1320.0 679.2L1320.5 679.1L1321.0 678.4L1321.5 679.2L1322.0 679.3L1322.5 679.7L1323.0 679.6L1323.5 679.6L1324.0 679.5L1324.5 679.6L1325.0 679.9L1325.5 679.1L1326.0 679.3L1326.5 679.1L1327.0 680.0L1327.5 679.9L1328.0 679.7L1328.5 679.1L1329.0 679.6L1329.5 679.5L1330.0 679.6L1330.5 679.5L1331.0 679.7L1331.5 679.4L1332.0 679.8L1332.5 679.6L1333.0 679.5L1333.5 679.5L1334.0 679.5L1334.5 679.8L1335.0 679.5L1335.5 679.7L1336.0 679.5L1336.5 679.2L1337.0 679.9L1337.5 679.3L1338.0 679.8L1338.5 679.8L1339.0 679.2L1339.5 679.4L1340.0 679.5L1340.5 679.4L1341.0 679.3L1341.5 679.9L1342.0 679.6L1342.5 679.8L1343.0 679.6L1343.5 679.8L1344.0 679.5L1344.5 679.7L1345.0 679.9L1345.5 679.8L1346.0 679.6L1346.5 679.4L1347.0 679.8L1347.5 679.9L1348.0 679.7L1348.5 679.5L1349.0 679.9L1349.5 680.5L1350.0 679.7L1350.5 679.9L1351.0 679.9L1351.5 679.0L1352.0 679.8L1352.5 679.6L1353.0 680.2L1353.5 679.7L1354.0 679.6L1354.5 679.8L1355.0 679.9L1355.5 679.7L1356.0 679.8L1356.5 679.4L1357.0 679.8L1357.5 680.1L1358.0 680.5L1358.5 680.1L1359.0 680.0L1359.5 680.2L1360.0 680.2L1360.5 680.4L1361.0 680.2L1361.5 679.9L1362.0 680.0L1362.5 680.0L1363.0 680.0L1363.5 680.0L1364.0 679.7L1364.5 679.3L1365.0 679.7L1365.5 679.3L1366.0 679.9L1366.5 679.9L1367.0 679.4L1367.5 680.1L1368.0 680.2L1368.5 680.0L1369.0 680.4L1369.5 680.5L1370.0 679.6L1370.5 680.3L1371.0 680.1L1371.5 680.1L1372.0 680.2L1372.5 679.7L1373.0 679.8L1373.5 679.7L1374.0 679.7L1374.5 679.9L1375.0 679.5L1375.5 679.6L1376.0 680.1L1376.5 679.9L1377.0 680.1L1377.5 679.4L1378.0 679.7L1378.5 679.8L1379.0 680.0L1379.5 679.8L1380.0 680.2L1380.5 680.0L1381.0 680.0L1381.5 680.0L1382.0 680.2L1382.5 679.8L1383.0 680.3L1383.5 680.1L1384.0 680.0L1384.5 680.0L1385.0 680.1L1385.5 680.2L1386.0 680.2L1386.5 680.0L1387.0 680.2L1387.5 679.9L1388.0 680.3L1388.5 679.9L1389.0 679.3L1389.5 680.3L1390.0 679.9L1390.5 679.5L1391.0 679.8L1391.5 679.6L1392.0 680.4L1392.5 680.0L1393.0 679.3L1393.5 679.9L1394.0 679.6L1394.5 680.3L1395.0 679.4L1395.5 679.1L1396.0 679.7L1396.5 679.6L1397.0 679.6L1397.5 679.0L1398.0 679.8L1398.5 680.1L1399.0 679.0L1399.5 680.0L1400.0 679.4L1400.5 680.3L1401.0 679.7L1401.5 679.5L1402.0 679.8L1402.5 679.6L1403.0 679.3L1403.5 679.6L1404.0 679.2L1404.5 678.8L1405.0 679.9L1405.5 679.1L1406.0 679.0L1406.5 679.2L1407.0 678.6L1407.5 678.6L1408.0 678.8L1408.5 678.8L1409.0 678.9L1409.5 679.1L1410.0 678.6L1410.5 678.8L1411.0 678.8L1411.5 678.2L1412.0 678.5L1412.5 678.1L1413.0 678.6L1413.5 678.3L1414.0 678.1L1414.5 677.6L1415.0 677.9L1415.5 677.5L1416.0 677.8L1416.5 677.3L1417.0 676.9L1417.5 677.2L1418.0 676.9L1418.5 676.3L1419.0 676.5L1419.5 675.8L1420.0 675.5L1420.5 675.3L1421.0 674.8L1421.5 674.5L1422.0 674.3L1422.5 674.5L1423.0 674.1L1423.5 673.2L1424.0 673.4L1424.5 672.6L1425.0 672.3L1425.5 672.1L1426.0 671.5L1426.5 671.7L1427.0 670.6L1427.5 669.6L1428.0 669.9L1428.5 668.8L1429.0 668.3L1429.5 666.9L1430.0 667.5L1430.5 666.8L1431.0 666.2L1431.5 665.6L1432.0 665.1L1432.5 663.9L1433.0 663.4L1433.5 662.1L1434.0 661.2L1434.5 660.7L1435.0 659.3L1435.5 657.5L1436.0 656.4L1436.5 654.5L1437.0 652.2L1437.5 650.3L1438.0 647.3L1438.5 643.1L1439.0 639.0L1439.5 636.1L1440.0 632.2L1440.5 630.0L1441.0 627.8L1441.5 625.8L1442.0 623.6L1442.5 622.3L1443.0 621.1L1443.5 620.1L1444.0 618.9L1444.5 618.2L1445.0 618.3L1445.5 617.9L1446.0 617.3L1446.5 616.9L1447.0 617.3L1447.5 617.4L1448.0 618.0L1448.5 617.7L1449.0 618.6L1449.5 619.1L1450.0 619.5L1450.5 620.8L1451.0 622.0L1451.5 623.5L1452.0 625.7L1452.5 629.2L1453.0 635.7L1453.5 641.7L1454.0 646.8L1454.5 652.0L1455.0 655.9L1455.5 659.4L1456.0 663.2L1456.5 666.3L1457.0 669.5L1457.5 671.3L1458.0 672.5L1458.5 674.0L1459.0 674.5L1459.5 675.1L1460.0 677.1L1460.5 677.1L1461.0 677.7L1461.5 678.2L1462.0 678.9L1462.5 678.7L1463.0 679.2L1463.5 678.6L1464.0 678.6L1464.5 679.6L1465.0 679.7L1465.5 679.5L1466.0 679.5L1466.5 679.6L1467.0 679.4L1467.5 680.1L1468.0 679.9L1468.5 680.0L1469.0 680.0L1469.5 680.2L1470.0 680.1L1470.5 680.2L1471.0 679.7L1471.5 680.2L1472.0 680.8L1472.5 680.0L1473.0 680.1L1473.5 680.5L1474.0 680.5L1474.5 680.4L1475.0 679.7L1475.5 680.4L1476.0 679.9L1476.5 680.0L1477.0 680.4L1477.5 680.2L1478.0 680.5L1478.5 681.2L1479.0 680.5L1479.5 680.5L1480.0 680.0L1480.5 680.1L1481.0 680.0L1481.5 680.2L1482.0 680.0L1482.5 680.1L1483.0 680.3L1483.5 680.1L1484.0 679.9L1484.5 680.0L1485.0 680.5L1485.5 680.4L1486.0 680.7L1486.5 680.7L1487.0 680.3L1487.5 680.6L1488.0 680.0L1488.5 681.1L1489.0 680.8L1489.5 680.3L1490.0 680.1L1490.5 680.5L1491.0 679.9L1491.5 680.2L1492.0 680.6L1492.5 680.4L1493.0 680.3L1493.5 680.7L1494.0 680.1L1494.5 680.5L1495.0 680.3L1495.5 680.2L1496.0 680.6L1496.5 680.1L1497.0 681.0L1497.5 680.3L1498.0 681.0L1498.5 680.1L1499.0 680.6L1499.5 680.1L1500.0 680.0L1500.5 680.5L1501.0 680.6L1501.5 680.1L1502.0 680.8L1502.5 680.2L1503.0 680.5L1503.5 680.6L1504.0 680.6L1504.5 679.9L1505.0 680.9L1505.5 680.6L1506.0 680.3L1506.5 680.1L1507.0 679.9L1507.5 680.0L1508.0 680.6L1508.5 680.3L1509.0 680.1L1509.5 680.3L1510.0 680.9L1510.5 680.4L1511.0 680.3L1511.5 680.9L1512.0 680.6L1512.5 680.5L1513.0 680.3L1513.5 680.0L1514.0 680.1L1514.5 680.3L1515.0 680.4L1515.5 680.6L1516.0 680.6L1516.5 680.5L1517.0 680.5L1517.5 680.2L1518.0 679.8L1518.5 680.3L1519.0 680.2L1519.5 680.3L1520.0 680.4L1520.5 680.1L1521.0 680.1L1521.5 680.4L1522.0 680.5L1522.5 680.3L1523.0 680.6L1523.5 680.4L1524.0 680.2L1524.5 680.5L1525.0 681.0L1525.5 680.3L1526.0 680.8L1526.5 680.9L1527.0 680.9L1527.5 680.2L1528.0 681.1L1528.5 680.5L1529.0 680.4L1529.5 680.4L1530.0 680.6L1530.5 680.5L1531.0 680.4L1531.5 680.8L1532.0 680.2L1532.5 680.1L1533.0 680.7L1533.5 680.7L1534.0 680.8L1534.5 680.1L1535.0 680.8L1535.5 680.6L1536.0 681.0L1536.5 680.1L1537.0 680.5L1537.5 680.4L1538.0 680.0L1538.5 680.3L1539.0 680.8L1539.5 680.3L1540.0 680.2L1540.5 680.7L1541.0 680.8L1541.5 680.8L1542.0 680.2L1542.5 680.5L1543.0 680.8L1543.5 680.3L1544.0 680.2L1544.5 680.7L1545.0 680.9L1545.5 680.1L1546.0 679.7L1546.5 680.0L1547.0 680.2L1547.5 680.4L1548.0 680.7L1548.5 680.4L1549.0 680.3L1549.5 680.5L1550.0 680.2L1550.5 680.5L1551.0 680.3L1551.5 681.3L1552.0 680.7L1552.5 680.2L1553.0 680.2L1553.5 680.3L1554.0 680.0L1554.5 680.3L1555.0 680.3L1555.5 680.7L1556.0 680.3L1556.5 680.2L1557.0 680.1L1557.5 680.1L1558.0 680.4L1558.5 680.4L1559.0 680.8L1559.5 680.2L1560.0 680.7L1560.5 680.4L1561.0 680.3L1561.5 679.6L1562.0 679.8L1562.5 680.4L1563.0 680.5L1563.5 680.1L1564.0 680.2L1564.5 679.8L1565.0 679.7L1565.5 679.6L1566.0 680.0L1566.5 679.7L1567.0 679.5L1567.5 679.3L1568.0 679.5L1568.5 679.4L1569.0 678.9L1569.5 679.6L1570.0 679.1L1570.5 678.9L1571.0 679.3L1571.5 679.1L1572.0 678.7L1572.5 678.8L1573.0 678.2L1573.5 678.2L1574.0 677.7L1574.5 678.6L1575.0 677.6L1575.5 678.3L1576.0 677.8L1576.5 677.6L1577.0 677.7L1577.5 677.8L1578.0 677.7L1578.5 678.0L1579.0 677.4L1579.5 677.4L1580.0 676.9L1580.5 677.1L1581.0 676.8L1581.5 676.5L1582.0 676.5L1582.5 676.4L1583.0 676.3L1583.5 676.3L1584.0 675.9L1584.5 675.8L1585.0 676.1L1585.5 675.3L1586.0 675.6L1586.5 676.2L1587.0 674.9L1587.5 675.5L1588.0 675.9L1588.5 675.2L1589.0 676.5L1589.5 675.0L1590.0 676.3L1590.5 676.4L1591.0 676.3L1591.5 676.1L1592.0 676.4L1592.5 676.1L1593.0 676.8L1593.5 676.3L1594.0 676.7L1594.5 677.2L1595.0 676.7L1595.5 677.1L1596.0 677.4L1596.5 677.1L1597.0 678.0L1597.5 677.8L1598.0 677.4L1598.5 677.9L1599.0 677.8L1599.5 677.9L1600.0 678.2L1600.5 678.0L1601.0 678.6L1601.5 678.2L1602.0 678.7L1602.5 678.5L1603.0 678.8L1603.5 678.5L1604.0 678.5L1604.5 678.4L1605.0 679.0L1605.5 679.1L1606.0 679.5L1606.5 679.4L1607.0 679.1L1607.5 679.0L1608.0 679.3L1608.5 679.2L1609.0 679.7L1609.5 679.6L1610.0 679.1L1610.5 679.2L1611.0 679.9L1611.5 679.6L1612.0 679.5L1612.5 680.0L1613.0 679.5L1613.5 679.6L1614.0 679.6L1614.5 679.2L1615.0 680.1L1615.5 679.5L1616.0 679.8L1616.5 679.8L1617.0 680.3L1617.5 680.1L1618.0 680.1L1618.5 679.7L1619.0 680.2L1619.5 679.8L1620.0 680.4L1620.5 680.4L1621.0 680.4L1621.5 681.0L1622.0 680.6L1622.5 680.7L1623.0 680.6L1623.5 680.5L1624.0 680.9L1624.5 681.0L1625.0 680.3L1625.5 681.0L1626.0 680.9L1626.5 681.1L1627.0 681.0L1627.5 680.5L1628.0 680.5L1628.5 681.5L1629.0 681.0L1629.5 680.5L1630.0 681.1L1630.5 680.9L1631.0 680.5L1631.5 680.4L1632.0 680.6L1632.5 681.2L1633.0 681.1L1633.5 681.1L1634.0 681.3L1634.5 681.4L1635.0 680.6L1635.5 681.2L1636.0 681.0L1636.5 680.9L1637.0 681.2L1637.5 681.3L1638.0 681.3L1638.5 680.9L1639.0 681.2L1639.5 682.0L1640.0 681.1L1640.5 680.9L1641.0 681.5L1641.5 681.6L1642.0 681.6L1642.5 681.1L1643.0 681.8L1643.5 681.3L1644.0 681.2L1644.5 681.3L1645.0 681.5L1645.5 681.8L1646.0 681.8L1646.5 681.6L1647.0 681.9L1647.5 681.6L1648.0 681.9L1648.5 681.2L1649.0 681.2L1649.5 681.9L1650.0 681.2L1650.5 681.6L1651.0 681.6L1651.5 681.5L1652.0 681.6L1652.5 682.1L1653.0 681.0L1653.5 682.0L1654.0 682.4L1654.5 681.7L1655.0 681.7L1655.5 682.0L1656.0 682.3L1656.5 681.4L1657.0 681.8L1657.5 681.7L1658.0 682.0L1658.5 681.9L1659.0 682.0L1659.5 681.7L1660.0 681.8L1660.5 681.6L1661.0 681.6L1661.5 681.8L1662.0 681.8L1662.5 681.5L1663.0 682.4L1663.5 681.8L1664.0 681.5L1664.5 682.2L1665.0 681.7L1665.5 682.1L1666.0 681.9L1666.5 682.0L1667.0 682.0L1667.5 681.8L1668.0 682.0L1668.5 682.6L1669.0 681.3L1669.5 682.0L1670.0 682.1L1670.5 681.7L1671.0 681.6L1671.5 682.6L1672.0 681.9L1672.5 682.6L1673.0 682.2L1673.5 682.0L1674.0 682.2L1674.5 682.2L1675.0 682.4L1675.5 682.2L1676.0 682.1L1676.5 682.1L1677.0 682.5L1677.5 682.3L1678.0 681.8L1678.5 681.9L1679.0 682.2L1679.5 681.9L1680.0 682.0L1680.5 681.8L1681.0 682.0L1681.5 682.2L1682.0 682.4L1682.5 682.1L1683.0 682.8L1683.5 682.1L1684.0 683.1L1684.5 682.4L1685.0 682.3L1685.5 682.0L1686.0 681.3L1686.5 682.1L1687.0 682.2L1687.5 682.8L1688.0 681.8L1688.5 682.8L1689.0 682.1L1689.5 682.4L1690.0 681.5L1690.5 682.3L1691.0 682.1L1691.5 682.4L1692.0 682.3L1692.5 681.9L1693.0 682.5L1693.5 682.5L1694.0 682.4L1694.5 682.6L1695.0 682.6L1695.5 682.3L1696.0 681.9L1696.5 681.9L1697.0 682.7L1697.5 682.5L1698.0 682.3L1698.5 682.2L1699.0 682.3L1699.5 682.3L1700.0 682.2L1700.5 682.1L1701.0 683.0L1701.5 682.4L1702.0 682.2L1702.5 682.0L1703.0 682.2L1703.5 682.6L1704.0 682.6L1704.5 682.3L1705.0 682.4L1705.5 682.3L1706.0 682.1L1706.5 682.8L1707.0 682.6L1707.5 683.2L1708.0 682.2L1708.5 682.4L1709.0 682.7L1709.5 682.4L1710.0 682.1L1710.5 682.2L1711.0 682.5L1711.5 682.6L1712.0 682.5L1712.5 682.8L1713.0 682.8L1713.5 682.6L1714.0 682.5L1714.5 682.5L1715.0 682.7L1715.5 682.8L1716.0 682.6L1716.5 682.7L1717.0 682.5L1717.5 682.2L1718.0 682.3L1718.5 682.8L1719.0 682.7L1719.5 683.1L1720.0 682.6L1720.5 682.9L1721.0 683.0L1721.5 682.9L1722.0 682.5L1722.5 682.6L1723.0 682.7L1723.5 682.4L1724.0 682.8L1724.5 683.0L1725.0 682.5L1725.5 683.3L1726.0 682.6L1726.5 682.7L1727.0 682.6L1727.5 682.5L1728.0 682.9L1728.5 682.7L1729.0 683.2L1729.5 682.9L1730.0 682.9L1730.5 682.7L1731.0 682.3L1731.5 682.8L1732.0 682.5L1732.5 683.1L1733.0 682.8L1733.5 683.3L1734.0 683.0L1734.5 683.1L1735.0 682.9L1735.5 682.9L1736.0 683.0L1736.5 683.1L1737.0 682.6L1737.5 683.0L1738.0 683.7L1738.5 682.8L1739.0 682.8L1739.5 682.7L1740.0 682.5L1740.5 683.3L1741.0 682.9L1741.5 683.0L1742.0 683.5L1742.5 683.7L1743.0 682.7L1743.5 683.3L1744.0 683.1L1744.5 683.1L1745.0 683.1L1745.5 683.0L1746.0 683.5L1746.5 683.2L1747.0 683.1L1747.5 683.4L1748.0 683.3L1748.5 683.1L1749.0 683.1L1749.5 683.6L1750.0 683.2L1750.5 683.0L1751.0 682.8L1751.5 682.9L1752.0 682.7L1752.5 683.1L1753.0 683.1L1753.5 682.5L1754.0 683.1L1754.5 683.3L1755.0 683.1L1755.5 682.8L1756.0 683.5L1756.5 682.9L1757.0 682.8L1757.5 682.8L1758.0 683.1L1758.5 683.4L1759.0 683.5L1759.5 683.2L1760.0 682.8L1760.5 683.0L1761.0 682.9L1761.5 683.1L1762.0 682.7L1762.5 683.2L1763.0 683.4L1763.5 683.2L1764.0 683.4L1764.5 682.9L1765.0 682.8L1765.5 683.0L1766.0 683.6L1766.5 683.6L1767.0 683.1L1767.5 683.6L1768.0 683.2L1768.5 683.7L1769.0 683.4L1769.5 683.2L1770.0 683.5L1770.5 683.1L1771.0 683.0L1771.5 682.9L1772.0 683.4L1772.5 683.3L1773.0 683.3L1773.5 683.2L1774.0 683.8L1774.5 683.2L1775.0 683.1L1775.5 683.7L1776.0 683.8L1776.5 683.5L1777.0 682.9L1777.5 683.2L1778.0 683.6L1778.5 683.4L1779.0 683.9L1779.5 683.0L1780.0 683.6L1780.5 683.2L1781.0 683.8L1781.5 683.4L1782.0 683.8L1782.5 683.3L1783.0 683.0L1783.5 683.1L1784.0 683.3L1784.5 683.2L1785.0 683.8L1785.5 683.9L1786.0 683.6L1786.5 683.2L1787.0 683.5L1787.5 683.3L1788.0 684.0L1788.5 683.6L1789.0 683.7L1789.5 683.4L1790.0 682.9L1790.5 683.3L1791.0 683.2L1791.5 683.7L1792.0 683.6L1792.5 683.3L1793.0 683.5L1793.5 684.1L1794.0 683.3L1794.5 683.3L1795.0 683.5L1795.5 683.4L1796.0 683.5L1796.5 683.8L1797.0 684.2L1797.5 683.1L1798.0 683.6L1798.5 683.7L1799.0 683.6L1799.5 683.6L1800.0 683.6L1800.5 684.0L1801.0 683.5L1801.5 683.7L1802.0 683.7L1802.5 683.7L1803.0 683.7L1803.5 684.0L1804.0 683.7L1804.5 683.8L1805.0 683.7L1805.5 683.4L1806.0 683.5L1806.5 683.4L1807.0 683.8L1807.5 683.5L1808.0 683.4L1808.5 683.8L1809.0 683.9L1809.5 683.3L1810.0 684.3L1810.5 683.8L1811.0 683.8L1811.5 684.1L1812.0 683.8L1812.5 683.6L1813.0 684.5L1813.5 683.5L1814.0 683.8L1814.5 684.1L1815.0 683.5L1815.5 683.8L1816.0 684.0L1816.5 684.6L1817.0 683.6L1817.5 683.9L1818.0 684.1L1818.5 683.9L1819.0 683.5L1819.5 684.0L1820.0 683.9L1820.5 684.0L1821.0 684.3L1821.5 684.2L1822.0 684.1L1822.5 684.0L1823.0 683.6L1823.5 683.9L1824.0 684.0L1824.5 683.8L1825.0 684.0L1825.5 683.7L1826.0 684.4L1826.5 684.6L1827.0 683.9L1827.5 684.1L1828.0 683.9L1828.5 684.4L1829.0 684.1L1829.5 684.0L1830.0 684.0L1830.5 684.1L1831.0 683.7L1831.5 684.2L1832.0 683.8L1832.5 684.2L1833.0 684.1L1833.5 684.4L1834.0 684.1L1834.5 684.4L1835.0 683.8L1835.5 684.3L1836.0 684.0L1836.5 684.2L1837.0 684.1L1837.5 684.4L1838.0 683.5L1838.5 684.2L1839.0 683.7L1839.5 684.5L1840.0 683.5L1840.5 683.8L1841.0 683.6L1841.5 684.6L1842.0 683.8L1842.5 684.2L1843.0 684.0L1843.5 683.6L1844.0 684.1L1844.5 684.4L1845.0 684.1L1845.5 684.5L1846.0 684.1L1846.5 684.2L1847.0 684.1L1847.5 684.3L1848.0 684.8L1848.5 684.3L1849.0 684.3L1849.5 684.1L1850.0 684.0L1850.5 684.7L1851.0 683.9L1851.5 684.0L1852.0 684.2L1852.5 684.1L1853.0 684.9L1853.5 683.6L1854.0 684.4L1854.5 684.5L1855.0 684.0" fill="none" stroke="#000" stroke-width="4.4" stroke-linejoin="round"/>
<path d="M141.0 647.0V647.0H142.3V646.7H143.7V646.7H145.0V646.7H146.4V646.7H147.7V650.5H149.1V650.5H150.4V650.5H151.8V650.5H153.1V654.3H154.5V658.3H155.8V658.3H157.2V658.6H158.5V659.6H159.9V662.2H161.2V663.4H162.6V660.5H163.9V660.4H165.3V660.4H166.6V660.4H168.0V662.9H169.3V662.6H170.7V662.6H172.0V662.6H173.4V662.6H174.7V664.5H176.1V668.5H177.4V668.5H178.8V668.5H180.1V666.3H181.5V666.3H182.8V666.3H184.2V666.3H185.5V667.1H186.9V669.9H188.2V669.9H189.6V670.3H190.9V671.4H192.3V670.3H193.6V670.2H195.0V670.2H196.3V670.2H197.7V671.3H199.0V668.9H200.4V667.8H201.7V667.8H203.1V667.8H204.4V668.5H205.8V668.9H207.1V668.4H208.5V668.4H209.8V666.5H211.2V666.5H212.5V666.5H213.9V666.5H215.2V667.6H216.6V665.8H217.9V664.1H219.3V660.1H220.6V660.1H222.0V660.1H223.3V660.1H224.7V661.8H226.0V660.7H227.4V660.6H228.7V657.1H230.1V655.6H231.4V653.2H232.8V653.2H234.1V650.8H235.5V649.7H236.8V642.9H238.2V642.7H239.5V642.7H240.9V642.1H242.2V642.1H243.6V637.2H244.9V637.2H246.3V632.6H247.6V632.6H249.0V629.4H250.3V629.0H251.7V628.3H253.0V617.6H254.4V617.6H255.7V616.3H257.1V613.7H258.4V611.7H259.8V608.5H261.1V605.6H262.5V599.7H263.8V597.0H265.2V591.2H266.5V591.2H267.9V579.0H269.2V570.6H270.6V559.7H271.9V559.7H273.3V550.1H274.6V538.7H276.0V534.1H277.3V526.7H278.7V518.5H280.0V508.2H281.4V498.4H282.7V492.8H284.1V486.7H285.4V481.9H286.8V469.8H288.1V468.3H289.5V465.2H290.8V457.7H292.2V449.8H293.5V444.8H294.9V443.0H296.2V443.0H297.6V443.0H298.9V443.0H300.3V445.9H301.6V447.8H303.0V457.7H304.3V462.0H305.7V472.9H307.0V479.7H308.4V486.0H309.7V497.7H311.1V508.0H312.4V511.9H313.8V525.7H315.1V533.8H316.5V540.6H317.8V553.5H319.2V563.2H320.5V569.7H321.9V577.6H323.2V585.9H324.6V597.6H325.9V603.1H327.3V611.8H328.6V624.0H330.0V630.6H331.3V640.7H332.7V653.2H334.0V660.8H335.4V670.7H336.7V678.4H338.1V680.4H339.4V687.4H340.8V687.4H342.1V696.8H343.5V699.5H344.8V699.9H346.2V706.2H347.5V707.9H348.9V712.6H350.2V714.2H351.6V716.4H352.9V722.1H354.3V725.4H355.6V726.6H357.0V729.5H358.3V729.5H359.7V735.5H361.0V739.5H362.4V739.5H363.7V741.8H365.1V741.8H366.4V743.9H367.8V748.3H369.1V752.3H370.5V752.8H371.8V753.6H373.2V753.6H374.5V758.7H375.9V759.5H377.2V761.3H378.6V761.3H379.9V762.4H381.3V762.4H382.6V764.0H384.0V765.4H385.3V765.4H386.7V765.4H388.0V766.2H389.4V766.2H390.7V766.2H392.1V768.5H393.4V769.3H394.8V769.5H396.1V770.1H397.5V770.1H398.8V770.1H400.2V772.4H401.5V774.0H402.9V774.5H404.2V774.5H405.6V774.4H406.9V774.4H408.3V774.4H409.6V774.4H411.0V774.7H412.3V774.7H413.7V779.4H415.0V779.4H416.4V779.5H417.7V777.0H419.1V777.0H420.4V777.0H421.8V777.0H423.1V778.9H424.5V779.8H425.8V782.1H427.2V783.0H428.5V783.0H429.9V783.0H431.2V783.1H432.6V785.4H433.9V785.8H435.3V785.8H436.6V785.8H438.0V786.4H439.3V786.4H440.7V788.2H442.0V788.2H443.4V788.2H444.7V788.9H446.1V788.9H447.4V788.9H448.8V788.9H450.1V790.1H451.5V790.1H452.8V790.1H454.2V790.5H455.5V790.5H456.9V792.5H458.2V793.5H459.6V793.5H460.9V793.5H462.3V795.0H463.6V795.0H465.0V795.0H466.3V795.0H467.7V795.6H469.0V795.6H470.4V795.6H471.7V795.6H473.1V798.3H474.4V794.4H475.8V794.4H477.1V794.4H478.5V794.4H479.8V797.5H481.2V795.0H482.5V795.0H483.9V795.0H485.2V795.0H486.6V796.7H487.9V796.7H489.3V796.7H490.6V797.9H492.0V797.8H493.3V797.8H494.7V797.8H496.0V797.8H497.4V798.3H498.7V799.0H500.1V799.0H501.4V799.0H502.8V799.0H504.1V799.8H505.5V799.8H506.8V798.5H508.2V798.5H509.5V798.5H510.9V798.5H512.2V798.7H513.6V798.7H514.9V797.9H516.3V797.9H517.6V797.9H519.0V797.9H520.3V799.7H521.7V799.2H523.0V797.8H524.4V797.6H525.7V797.6H527.1V797.6H528.4V797.9H529.8V797.0H531.1V797.0H532.5V797.0H533.8V797.0H535.2V800.7H536.5V800.7H537.9V799.3H539.2V799.3H540.6V799.3H541.9V799.3H543.3V800.3H544.6V798.9H546.0V798.9H547.3V798.9H548.7V798.9H550.0V799.2H551.4V798.9H552.7V797.8H554.1V797.4H555.4V797.4H556.8V797.4H558.1V797.4H559.5V797.3H560.8V797.3H562.2V797.3H563.5V797.3H564.9V794.9H566.2V794.9H567.6V794.9H568.9V794.9H570.3V797.8H571.6V797.8H573.0V798.4H574.3V798.4H575.7V798.9H577.0V799.1H578.4V799.1H579.7V799.1H581.1V799.1H582.4V799.5H583.8V799.5H585.1V799.5H586.5V798.6H587.8V798.6H589.2V798.3H590.5V797.6H591.9V797.6H593.2V797.6H594.6V798.7H595.9V799.1H597.3V797.7H598.6V797.7H600.0V797.7H601.3V797.7H602.7V801.0H604.0V800.7H605.4V799.9H606.7V798.5H608.1V798.5H609.4V798.5H610.8V798.5H612.1V800.4H613.5V799.2H614.8V799.2H616.2V799.2H617.5V799.2H618.9V797.5H620.2V797.5H621.6V797.5H622.9V797.5H624.3V798.1H625.6V798.1H627.0V798.1H628.3V798.1H629.7V798.3H631.0V800.1H632.4V800.1H633.7V798.8H635.1V798.8H636.4V798.8H637.8V796.7H639.1V796.7H640.5V796.7H641.8V796.7H643.2V797.7H644.5V800.0H645.9V800.0H647.2V798.1H648.6V798.1H649.9V798.1H651.3V798.1H652.6V798.5H654.0V796.6H655.3V796.6H656.7V796.6H658.0V796.6H659.4V798.2H660.7V798.2H662.1V797.9H663.4V797.3H664.8V797.3H666.1V796.2H667.5V796.1H668.8V796.1H670.2V796.1H671.5V795.2H672.9V795.2H674.2V793.4H675.6V793.4H676.9V793.4H678.3V792.6H679.6V791.6H681.0V789.8H682.3V784.9H683.7V784.9H685.0V784.9H686.4V784.9H687.7V784.3H689.1V782.6H690.4V782.6H691.8V782.2H693.1V780.5H694.5V780.5H695.8V780.5H697.2V780.5H698.5V779.3H699.9V779.3H701.2V779.3H702.6V779.3H703.9V780.4H705.3V780.4H706.6V780.4H708.0V781.9H709.3V785.4H710.7V785.4H712.0V787.5H713.4V787.5H714.7V787.5H716.1V788.4H717.4V788.4H718.8V788.4H720.1V788.7H721.5V788.7H722.8V788.7H724.2V788.7H725.5V787.7H726.9V787.7H728.2V787.7H729.6V787.7H730.9V789.1H732.3V789.1H733.6V789.1H735.0V789.1H736.3V789.1H737.7V789.1H739.0V789.1H740.4V789.8H741.7V789.8H743.1V789.1H744.4V789.1H745.8V789.1H747.1V789.1H748.5V790.6H749.8V790.6H751.2V790.6H752.5V789.2H753.9V789.2H755.2V787.1H756.6V787.1H757.9V787.1H759.3V787.1H760.6V787.8H762.0V787.8H763.3V787.8H764.7V787.8H766.0V792.8H767.4V792.0H768.7V792.0H770.1V788.8H771.4V788.5H772.8V788.5H774.1V788.5H775.5V788.5H776.8V789.1H778.2V789.1H779.5V789.0H780.9V788.8H782.2V788.8H783.6V788.8H784.9V788.8H786.3V789.1H787.6V789.1H789.0V789.2H790.3V789.2H791.7V787.2H793.0V787.2H794.4V787.2H795.7V787.2H797.1V787.7H798.4V787.7H799.8V787.2H801.1V787.2H802.5V787.2H803.8V787.2H805.2V786.8H806.5V786.8H807.9V786.8H809.2V787.6H810.6V788.6H811.9V786.5H813.3V786.4H814.6V786.4H816.0V786.4H817.3V786.4H818.7V783.9H820.0V783.9H821.4V783.9H822.7V783.9H824.1V785.6H825.4V785.6H826.8V785.6H828.1V785.6H829.5V783.4H830.8V783.4H832.2V783.4H833.5V783.4H834.9V786.4H836.2V786.6H837.6V785.7H838.9V785.0H840.3V785.0H841.6V785.0H843.0V785.0H844.3V788.7H845.7V787.1H847.0V787.1H848.4V786.2H849.7V784.3H851.1V784.3H852.4V784.3H853.8V785.3H855.1V785.3H856.5V785.3H857.8V785.3H859.2V787.4H860.5V783.8H861.9V783.8H863.2V783.8H864.6V783.8H865.9V786.1H867.3V787.2H868.6V787.2H870.0V782.6H871.3V782.6H872.7V782.6H874.0V782.6H875.4V786.3H876.7V782.4H878.1V782.4H879.4V782.4H880.8V782.4H882.1V787.4H883.5V787.4H884.8V787.4H886.2V786.2H887.5V786.2H888.9V786.2H890.2V786.6H891.6V789.2H892.9V789.7H894.3V788.9H895.6V783.2H897.0V783.2H898.3V783.2H899.7V783.2H901.0V792.6H902.4V792.6H903.7V792.6H905.1V792.6H906.4V794.6H907.8V794.6H909.1V794.6H910.5V794.6H911.8V796.0H913.2V796.0H914.5V797.6H915.9V789.6H917.2V789.6H918.6V789.6H919.9V789.6H921.3V796.8H922.6V794.8H924.0V794.4H925.3V794.4H926.7V794.4H928.0V797.5H929.4V800.5H930.7V799.2H932.1V798.5H933.4V798.5H934.8V798.5H936.1V798.5H937.5V798.1H938.8V797.8H940.2V797.8H941.5V797.8H942.9V797.7H944.2V797.7H945.6V797.7H946.9V798.1H948.3V798.1H949.6V798.1H951.0V798.1H952.3V799.2H953.7V799.2H955.0V799.2H956.4V799.2H957.7V805.0H959.1V805.0H960.4V805.0H961.8V805.7H963.1V805.6H964.5V805.6H965.8V805.6H967.2V805.6H968.5V804.6H969.9V804.6H971.2V804.6H972.6V804.6H973.9V808.8H975.3V808.8H976.6V807.1H978.0V806.0H979.3V806.0H980.7V806.0H982.0V806.8H983.4V806.8H984.7V806.8H986.1V806.8H987.4V808.6H988.8V810.0H990.1V810.0H991.5V810.0H992.8V810.0H994.2V810.7H995.5V810.7H996.9V812.0H998.2V810.7H999.6V810.7H1000.9V810.7H1002.3V810.7H1003.6V811.5H1005.0V810.0H1006.3V810.0H1007.7V810.0H1009.0V812.0H1010.4V813.0H1011.7V814.0H1013.1V814.6H1014.4V814.6H1015.8V814.8H1017.1V814.8H1018.5V814.8H1019.8V811.4H1021.2V811.4H1022.5V811.4H1023.9V811.4H1025.2V814.7H1026.6V816.3H1027.9V816.3H1029.3V817.2H1030.6V816.8H1032.0V816.8H1033.3V816.8H1034.7V816.1H1036.0V816.1H1037.4V816.1H1038.7V816.1H1040.1V816.4H1041.4V817.9H1042.8V821.0H1044.1V820.6H1045.5V820.6H1046.8V820.6H1048.2V820.6H1049.5V821.3H1050.9V821.9H1052.2V821.9H1053.6V822.8H1054.9V825.2H1056.3V826.1H1057.6V826.1H1059.0V824.1H1060.3V822.9H1061.7V822.9H1063.0V822.9H1064.4V822.9H1065.7V826.9H1067.1V826.2H1068.4V825.7H1069.8V825.7H1071.1V825.7H1072.5V825.7H1073.8V823.3H1075.2V823.3H1076.5V823.3H1077.9V823.3H1079.2V826.8H1080.6V826.8H1081.9V826.4H1083.3V826.4H1084.6V825.7H1086.0V825.7H1087.3V825.7H1088.7V825.7H1090.0V826.6H1091.4V823.4H1092.7V822.7H1094.1V821.8H1095.4V814.5H1096.8V814.5H1098.1V814.5H1099.5V814.5H1100.8V815.7H1102.2V815.7H1103.5V812.9H1104.9V812.9H1106.2V809.3H1107.6V804.1H1108.9V803.5H1110.3V798.7H1111.6V797.3H1113.0V791.8H1114.3V786.7H1115.7V783.5H1117.0V783.5H1118.4V778.2H1119.7V771.8H1121.1V771.8H1122.4V771.8H1123.8V771.8H1125.1V773.6H1126.5V773.6H1127.8V773.8H1129.2V776.0H1130.5V777.0H1131.9V784.7H1133.2V785.9H1134.6V790.2H1135.9V793.8H1137.3V799.2H1138.6V799.2H1140.0V801.6H1141.3V801.6H1142.7V804.5H1144.0V805.9H1145.4V808.0H1146.7V809.3H1148.1V810.4H1149.4V811.5H1150.8V811.5H1152.1V811.5H1153.5V816.0H1154.8V816.8H1156.2V822.9H1157.5V824.4H1158.9V824.8H1160.2V824.8H1161.6V826.0H1162.9V826.0H1164.3V826.0H1165.6V829.7H1167.0V830.7H1168.3V830.7H1169.7V830.7H1171.0V830.7H1172.4V834.3H1173.7V834.3H1175.1V834.3H1176.4V838.8H1177.8V838.7H1179.1V838.7H1180.5V838.7H1181.8V840.6H1183.2V842.3H1184.5V842.3H1185.9V842.3H1187.2V842.3H1188.6V847.0H1189.9V846.5H1191.3V846.5H1192.6V846.5H1194.0V846.5H1195.3V852.2H1196.7V852.2H1198.0V852.0H1199.4V849.6H1200.7V849.6H1202.1V849.6H1203.4V849.9H1204.8V852.1H1206.1V853.0H1207.5V854.8H1208.8V854.8H1210.2V855.9H1211.5V855.9H1212.9V855.9H1214.2V856.3H1215.6V856.3H1216.9V858.9H1218.3V857.5H1219.6V857.5H1221.0V857.5H1222.3V857.5H1223.7V860.5H1225.0V861.8H1226.4V863.6H1227.7V864.1H1229.1V864.1H1230.4V859.4H1231.8V859.4H1233.1V859.4H1234.5V859.4H1235.8V863.6H1237.2V864.4H1238.5V863.1H1239.9V862.9H1241.2V862.9H1242.6V862.9H1243.9V866.5H1245.3V869.0H1246.6V869.0H1248.0V869.2H1249.3V869.2H1250.7V869.2H1252.0V870.6H1253.4V870.1H1254.7V870.1H1256.1V870.1H1257.4V870.1H1258.8V870.3H1260.1V870.3H1261.5V870.3H1262.8V870.3H1264.2V872.2H1265.5V872.2H1266.9V872.2H1268.2V872.2H1269.6V872.8H1270.9V872.8H1272.3V874.1H1273.6V871.5H1275.0V871.5H1276.3V871.5H1277.7V872.9H1279.0V875.5H1280.4V875.5H1281.7V875.5H1283.1V875.5H1284.4V876.2H1285.8V874.3H1287.1V874.3H1288.5V874.3H1289.8V875.0H1291.2V877.0H1292.5V876.3H1293.9V875.5H1295.2V875.5H1296.6V875.5H1297.9V876.8H1299.3V876.8H1300.6V878.1H1302.0V878.1H1303.3V878.1H1304.7V881.6H1306.0V881.8H1307.4V883.9H1308.7V883.0H1310.1V880.9H1311.4V878.3H1312.8V878.3H1314.1V878.3H1315.5V878.3H1316.8V879.6H1318.2V878.9H1319.5V878.9H1320.9V878.9H1322.2V880.2H1323.6V880.4H1324.9V880.4H1326.3V880.4H1327.6V883.2H1329.0V883.2H1330.3V883.6H1331.7V883.7H1333.0V882.8H1334.4V882.8H1335.7V882.6H1337.1V881.1H1338.4V881.1H1339.8V881.1H1341.1V881.1H1342.5V881.2H1343.8V886.0H1345.2V886.0H1346.5V886.1H1347.9V886.2H1349.2V886.2H1350.6V886.2H1351.9V885.4H1353.3V885.4H1354.6V885.4H1356.0V885.4H1357.3V889.7H1358.7V889.7H1360.0V888.3H1361.4V888.3H1362.7V888.3H1364.1V889.2H1365.4V889.2H1366.8V889.2H1368.1V889.3H1369.5V889.6H1370.8V889.8H1372.2V890.8H1373.5V889.5H1374.9V888.6H1376.2V888.6H1377.6V888.6H1378.9V885.9H1380.3V885.9H1381.6V885.9H1383.0V885.9H1384.3V887.2H1385.7V890.7H1387.0V889.1H1388.4V889.1H1389.7V889.1H1391.1V889.1H1392.4V889.0H1393.8V889.0H1395.1V889.0H1396.5V889.0H1397.8V887.0H1399.2V887.0H1400.5V887.0H1401.9V887.0H1403.2V889.5H1404.6V889.5H1405.9V890.0H1407.3V890.0H1408.6V888.6H1410.0V888.6H1411.3V888.6H1412.7V888.6H1414.0V888.7H1415.4V888.7H1416.7V888.7H1418.1V893.4H1419.4V888.0H1420.8V888.0H1422.1V888.0H1423.5V888.0H1424.8V888.3H1426.2V888.3H1427.5V888.9H1428.9V888.9H1430.2V888.9H1431.6V890.9H1432.9V890.9H1434.3V890.9H1435.6V892.1H1437.0V885.5H1438.3V885.5H1439.7V885.5H1441.0V885.5H1442.4V889.6H1443.7V889.6H1445.1V889.6H1446.4V890.9H1447.8V890.9H1449.1V890.9H1450.5V889.8H1451.8V889.8H1453.2V889.8H1454.5V889.8H1455.9V891.4H1457.2V891.4H1458.6V891.4H1459.9V891.4H1461.3V891.2H1462.6V891.2H1464.0V891.2H1465.3V891.2H1466.7V892.6H1468.0V893.9H1469.4V892.5H1470.7V892.5H1472.1V892.5H1473.4V892.5H1474.8V893.1H1476.1V893.1H1477.5V893.1H1478.8V893.1H1480.2V891.6H1481.5V891.5H1482.9V891.5H1484.2V891.5H1485.6V893.6H1486.9V892.9H1488.3V888.9H1489.6V888.9H1491.0V888.9H1492.3V889.8H1493.7V894.1H1495.0V895.1H1496.4V895.1H1497.7V895.1H1499.1V895.1H1500.4V896.3H1501.8V896.3H1503.1V895.5H1504.5V895.5H1505.8V895.5H1507.2V896.4H1508.5V896.4H1509.9V896.4H1511.2V896.4H1512.6V898.4H1513.9V898.5H1515.3V898.5H1516.6V896.3H1518.0V896.1H1519.3V896.1H1520.7V896.1H1522.0V896.1H1523.4V899.7H1524.7V896.0H1526.1V895.9H1527.4V895.9H1528.8V895.9H1530.1V895.9H1531.5V895.9H1532.8V895.9H1534.2V895.9H1535.5V898.2H1536.9V898.2H1538.2V893.8H1539.6V893.8H1540.9V893.8H1542.3V893.8H1543.6V895.6H1545.0V895.6H1546.3V895.6H1547.7V897.8H1549.0V898.1H1550.4V898.1H1551.7V897.3H1553.1V895.9H1554.4V895.9H1555.8V895.9H1557.1V895.9H1558.5V897.1H1559.8V899.3H1561.2V899.2H1562.5V895.7H1563.9V895.7H1565.2V895.7H1566.6V895.7H1567.9V897.6H1569.3V898.2H1570.6V898.2H1572.0V898.2H1573.3V899.0H1574.7V896.5H1576.0V896.2H1577.4V894.3H1578.7V894.3H1580.1V894.3H1581.4V895.8H1582.8V898.5H1584.1V898.5H1585.5V897.9H1586.8V897.9H1588.2V897.9H1589.5V897.9H1590.9V899.2H1592.2V899.2H1593.6V898.8H1594.9V898.5H1596.3V898.5H1597.6V898.5H1599.0V893.3H1600.3V893.3H1601.7V893.3H1603.0V893.3H1604.4V897.0H1605.7V897.3H1607.1V897.3H1608.4V897.3H1609.8V899.3H1611.1V896.4H1612.5V896.4H1613.8V896.4H1615.2V896.4H1616.5V898.8H1617.9V898.8H1619.2V898.9H1620.6V898.9H1621.9V899.1H1623.3V899.1H1624.6V895.5H1626.0V895.5H1627.3V895.5H1628.7V895.5H1630.0V896.8H1631.4V896.8H1632.7V897.1H1634.1V897.6H1635.4V897.4H1636.8V897.4H1638.1V897.4H1639.5V897.4H1640.8V900.8H1642.2V898.9H1643.5V897.7H1644.9V897.6H1646.2V897.6H1647.6V897.6H1648.9V897.6H1650.3V900.0H1651.6V897.3H1653.0V897.3H1654.3V897.3H1655.7V895.3H1657.0V895.3H1658.4V895.3H1659.7V895.3H1661.1V897.9H1662.4V899.2H1663.8V896.1H1665.1V896.1H1666.5V896.1H1667.8V896.1H1669.2V897.5H1670.5V897.5H1671.9V898.8H1673.2V898.8H1674.6V900.1H1675.9V899.0H1677.3V898.4H1678.6V897.9H1680.0V897.9H1681.3V897.9H1682.7V897.9H1684.0V900.8H1685.4V900.8H1686.7V900.8H1688.1V900.8H1689.4V899.5H1690.8V899.2H1692.1V899.2H1693.5V897.2H1694.8V897.2H1696.2V897.2H1697.5V897.2H1698.9V899.1H1700.2V898.5H1701.6V898.5H1702.9V898.5H1704.3V898.8H1705.6V898.8H1707.0V898.8H1708.3V898.8H1709.7V898.8H1711.0V900.3H1712.4V900.3H1713.7V900.3H1715.1V900.3H1716.4V903.2H1717.8V901.6H1719.1V901.6H1720.5V901.6H1721.8V901.6H1723.2V902.8H1724.5V902.4H1725.9V902.4H1727.2V902.4H1728.6V902.4H1729.9V904.3H1731.3V904.9H1732.6V903.4H1734.0V903.4H1735.3V903.4H1736.7V903.4H1738.0V903.8H1739.4V903.8H1740.7V903.8H1742.1V902.3H1743.4V902.3H1744.8V902.3H1746.1V902.3H1747.5V903.8H1748.8V903.8H1750.2V905.0H1751.5V905.0H1752.9V905.0H1754.2V905.0H1755.6V905.4H1756.9V905.0H1758.3V905.0H1759.6V905.0H1761.0V905.0H1762.3V904.1H1763.7V904.1H1765.0V904.1H1766.4V905.5H1767.7V904.4H1769.1V904.4H1770.4V904.4H1771.8V904.4H1773.1V906.4H1774.5V905.8H1775.8V905.2H1777.2V905.2H1778.5V902.7H1779.9V902.7H1781.2V902.7H1782.6V902.7H1783.9V904.8H1785.3V904.8H1786.6V904.8H1788.0V904.0H1789.3V904.0H1790.7V904.0H1792.0V903.9H1793.4V903.9H1794.7V903.9H1796.1V902.6H1797.4V902.6H1798.8V902.6H1800.1V902.6H1801.5V905.2H1802.8V905.2H1804.2V905.2H1805.5V905.4H1806.9V907.4H1808.2V903.8H1809.6V903.8H1810.9V903.8H1812.3V903.8H1813.6V907.5H1815.0V907.5H1816.3V907.5H1817.7V906.5H1819.0V906.5H1820.4V906.5H1821.7V906.5H1823.1V907.9H1824.4V909.5H1825.8V906.6H1827.1V906.3H1828.5V901.7H1829.8V901.7H1831.2V901.7H1832.5V901.7H1833.9V904.8H1835.2V904.8H1836.6V904.8H1837.9V904.9H1839.3V904.0H1840.6V904.0H1842.0V904.0H1843.3V904.0H1844.7V906.8H1846.0V909.0H1847.4V908.0H1848.7V908.0H1850.1V908.0H1851.4V906.6H1852.8V906.6H1854.0V918.1V918.1H1852.8V918.1H1851.4V918.1H1850.1V918.8H1848.7V918.8H1847.4V918.8H1846.0V918.8H1844.7V918.5H1843.3V916.7H1842.0V916.7H1840.6V916.1H1839.3V916.7H1837.9V916.7H1836.6V918.3H1835.2V918.3H1833.9V918.4H1832.5V918.5H1831.2V919.7H1829.8V919.7H1828.5V919.7H1827.1V919.7H1825.8V917.2H1824.4V917.2H1823.1V917.2H1821.7V922.4H1820.4V922.4H1819.0V922.4H1817.7V922.4H1816.3V919.4H1815.0V919.0H1813.6V919.0H1812.3V919.0H1810.9V918.8H1809.6V915.8H1808.2V915.8H1806.9V916.5H1805.5V917.0H1804.2V917.0H1802.8V917.0H1801.5V917.0H1800.1V915.4H1798.8V914.6H1797.4V914.7H1796.1V915.3H1794.7V916.9H1793.4V916.9H1792.0V916.9H1790.7V916.9H1789.3V919.5H1788.0V919.5H1786.6V919.5H1785.3V919.5H1783.9V915.9H1782.6V916.1H1781.2V917.2H1779.9V917.2H1778.5V917.6H1777.2V917.6H1775.8V917.6H1774.5V917.6H1773.1V915.8H1771.8V917.7H1770.4V917.7H1769.1V917.8H1767.7V917.8H1766.4V917.8H1765.0V917.1H1763.7V915.6H1762.3V917.3H1761.0V917.4H1759.6V917.4H1758.3V917.4H1756.9V916.1H1755.6V915.9H1754.2V915.9H1752.9V915.0H1751.5V913.3H1750.2V913.3H1748.8V914.3H1747.5V914.3H1746.1V914.7H1744.8V914.7H1743.4V915.1H1742.1V915.1H1740.7V915.1H1739.4V915.1H1738.0V914.8H1736.7V914.6H1735.3V915.6H1734.0V915.6H1732.6V915.6H1731.3V915.6H1729.9V914.6H1728.6V914.6H1727.2V914.6H1725.9V913.3H1724.5V912.6H1723.2V912.6H1721.8V912.6H1720.5V912.6H1719.1V912.6H1717.8V914.1H1716.4V914.1H1715.1V914.1H1713.7V914.1H1712.4V917.9H1711.0V917.9H1709.7V917.9H1708.3V916.9H1707.0V911.8H1705.6V911.8H1704.3V910.7H1702.9V910.7H1701.6V910.7H1700.2V912.5H1698.9V912.5H1697.5V914.7H1696.2V914.7H1694.8V914.7H1693.5V914.7H1692.1V912.3H1690.8V911.3H1689.4V912.2H1688.1V912.2H1686.7V914.0H1685.4V914.0H1684.0V914.0H1682.7V914.0H1681.3V911.0H1680.0V910.8H1678.6V910.8H1677.3V909.4H1675.9V910.0H1674.6V910.0H1673.2V911.5H1671.9V912.3H1670.5V912.3H1669.2V912.3H1667.8V912.3H1666.5V910.1H1665.1V909.9H1663.8V909.9H1662.4V909.2H1661.1V910.2H1659.7V910.2H1658.4V910.2H1657.0V910.2H1655.7V909.6H1654.3V909.6H1653.0V910.0H1651.6V911.2H1650.3V912.5H1648.9V912.5H1647.6V912.5H1646.2V912.5H1644.9V908.8H1643.5V912.8H1642.2V912.8H1640.8V912.8H1639.5V912.8H1638.1V910.4H1636.8V910.9H1635.4V910.9H1634.1V913.1H1632.7V913.1H1631.4V913.1H1630.0V913.1H1628.7V909.3H1627.3V909.3H1626.0V909.3H1624.6V909.3H1623.3V908.7H1621.9V908.1H1620.6V908.1H1619.2V908.1H1617.9V908.1H1616.5V907.4H1615.2V912.0H1613.8V912.0H1612.5V912.0H1611.1V912.0H1609.8V911.5H1608.4V911.5H1607.1V910.9H1605.7V907.9H1604.4V907.9H1603.0V907.9H1601.7V906.5H1600.3V906.5H1599.0V907.3H1597.6V907.3H1596.3V907.3H1594.9V908.2H1593.6V910.5H1592.2V910.5H1590.9V910.5H1589.5V910.5H1588.2V913.9H1586.8V913.9H1585.5V913.9H1584.1V913.9H1582.8V911.1H1581.4V911.1H1580.1V909.9H1578.7V908.1H1577.4V908.1H1576.0V908.6H1574.7V908.6H1573.3V908.6H1572.0V911.5H1570.6V911.5H1569.3V911.5H1567.9V911.5H1566.6V908.0H1565.2V910.6H1563.9V910.6H1562.5V910.6H1561.2V910.6H1559.8V909.0H1558.5V909.1H1557.1V912.4H1555.8V912.4H1554.4V912.4H1553.1V912.4H1551.7V909.9H1550.4V910.7H1549.0V910.7H1547.7V910.7H1546.3V910.7H1545.0V908.7H1543.6V909.9H1542.3V909.9H1540.9V909.9H1539.6V909.9H1538.2V908.1H1536.9V908.1H1535.5V907.6H1534.2V908.2H1532.8V908.9H1531.5V908.9H1530.1V908.9H1528.8V908.9H1527.4V908.7H1526.1V908.7H1524.7V908.7H1523.4V909.1H1522.0V909.1H1520.7V909.1H1519.3V909.1H1518.0V911.0H1516.6V911.0H1515.3V911.0H1513.9V911.0H1512.6V908.9H1511.2V908.9H1509.9V908.9H1508.5V908.9H1507.2V909.9H1505.8V909.9H1504.5V909.9H1503.1V909.9H1501.8V908.9H1500.4V908.9H1499.1V908.9H1497.7V907.3H1496.4V906.5H1495.0V907.3H1493.7V907.3H1492.3V907.3H1491.0V905.5H1489.6V905.5H1488.3V905.5H1486.9V905.5H1485.6V903.4H1484.2V904.3H1482.9V906.1H1481.5V906.1H1480.2V906.1H1478.8V905.5H1477.5V905.0H1476.1V906.6H1474.8V906.6H1473.4V906.6H1472.1V906.6H1470.7V904.0H1469.4V904.0H1468.0V904.2H1466.7V904.2H1465.3V904.2H1464.0V904.2H1462.6V902.3H1461.3V902.3H1459.9V902.3H1458.6V904.4H1457.2V904.4H1455.9V904.4H1454.5V904.4H1453.2V902.5H1451.8V903.3H1450.5V906.7H1449.1V906.7H1447.8V906.7H1446.4V906.7H1445.1V902.7H1443.7V904.8H1442.4V904.8H1441.0V904.8H1439.7V904.7H1438.3V903.6H1437.0V903.6H1435.6V903.6H1434.3V904.9H1432.9V904.9H1431.6V904.9H1430.2V904.9H1428.9V898.6H1427.5V900.5H1426.2V900.5H1424.8V901.7H1423.5V901.7H1422.1V901.7H1420.8V901.7H1419.4V904.3H1418.1V904.3H1416.7V904.3H1415.4V904.3H1414.0V903.2H1412.7V900.6H1411.3V900.6H1410.0V900.0H1408.6V903.6H1407.3V903.6H1405.9V903.6H1404.6V903.6H1403.2V902.4H1401.9V902.4H1400.5V902.8H1399.2V903.6H1397.8V903.6H1396.5V903.6H1395.1V903.6H1393.8V904.0H1392.4V904.0H1391.1V904.0H1389.7V904.0H1388.4V904.0H1387.0V904.0H1385.7V904.0H1384.3V902.4H1383.0V901.3H1381.6V901.3H1380.3V898.7H1378.9V898.7H1377.6V898.4H1376.2V898.2H1374.9V900.0H1373.5V901.5H1372.2V901.5H1370.8V901.5H1369.5V901.5H1368.1V898.8H1366.8V899.3H1365.4V899.3H1364.1V900.4H1362.7V900.4H1361.4V900.4H1360.0V900.4H1358.7V899.9H1357.3V899.3H1356.0V899.2H1354.6V898.0H1353.3V896.5H1351.9V896.5H1350.6V896.5H1349.2V896.6H1347.9V897.9H1346.5V899.1H1345.2V899.1H1343.8V899.1H1342.5V899.1H1341.1V892.7H1339.8V895.2H1338.4V895.2H1337.1V895.2H1335.7V894.6H1334.4V892.5H1333.0V893.7H1331.7V893.7H1330.3V894.6H1329.0V894.6H1327.6V894.7H1326.3V894.7H1324.9V894.7H1323.6V894.2H1322.2V891.4H1320.9V891.4H1319.5V893.9H1318.2V893.9H1316.8V893.9H1315.5V893.9H1314.1V889.4H1312.8V895.2H1311.4V895.2H1310.1V895.2H1308.7V895.2H1307.4V890.8H1306.0V890.8H1304.7V890.8H1303.3V890.5H1302.0V888.9H1300.6V888.4H1299.3V888.4H1297.9V887.9H1296.6V887.4H1295.2V887.4H1293.9V887.4H1292.5V887.4H1291.2V891.3H1289.8V891.3H1288.5V891.3H1287.1V891.3H1285.8V886.9H1284.4V886.9H1283.1V888.3H1281.7V888.3H1280.4V888.3H1279.0V887.0H1277.7V886.1H1276.3V888.9H1275.0V888.9H1273.6V888.9H1272.3V888.9H1270.9V886.1H1269.6V886.1H1268.2V883.1H1266.9V884.6H1265.5V885.6H1264.2V885.6H1262.8V885.6H1261.5V885.3H1260.1V882.2H1258.8V882.0H1257.4V881.1H1256.1V884.1H1254.7V884.1H1253.4V884.1H1252.0V884.1H1250.7V881.0H1249.3V880.0H1248.0V879.8H1246.6V885.3H1245.3V885.3H1243.9V885.3H1242.6V885.3H1241.2V880.5H1239.9V880.5H1238.5V880.5H1237.2V878.8H1235.8V878.8H1234.5V878.6H1233.1V878.6H1231.8V877.3H1230.4V877.3H1229.1V877.5H1227.7V877.5H1226.4V877.5H1225.0V877.2H1223.7V871.7H1222.3V873.0H1221.0V873.0H1219.6V873.0H1218.3V873.0H1216.9V869.6H1215.6V869.1H1214.2V869.1H1212.9V868.8H1211.5V867.2H1210.2V867.2H1208.8V867.0H1207.5V866.4H1206.1V866.0H1204.8V864.8H1203.4V864.8H1202.1V864.8H1200.7V863.6H1199.4V863.6H1198.0V863.6H1196.7V862.6H1195.3V862.2H1194.0V862.2H1192.6V862.2H1191.3V860.1H1189.9V860.1H1188.6V860.1H1187.2V859.2H1185.9V854.8H1184.5V855.4H1183.2V855.4H1181.8V855.4H1180.5V855.4H1179.1V853.0H1177.8V851.1H1176.4V851.1H1175.1V849.6H1173.7V849.2H1172.4V849.2H1171.0V849.2H1169.7V844.9H1168.3V844.9H1167.0V844.9H1165.6V840.9H1164.3V840.9H1162.9V837.3H1161.6V837.3H1160.2V836.8H1158.9V833.0H1157.5V833.0H1156.2V833.0H1154.8V833.0H1153.5V829.4H1152.1V828.7H1150.8V828.3H1149.4V824.8H1148.1V823.9H1146.7V823.4H1145.4V823.4H1144.0V823.4H1142.7V818.1H1141.3V814.0H1140.0V813.1H1138.6V813.1H1137.3V813.1H1135.9V808.1H1134.6V805.6H1133.2V805.6H1131.9V799.6H1130.5V796.3H1129.2V795.0H1127.8V785.3H1126.5V781.9H1125.1V787.9H1123.8V787.9H1122.4V789.3H1121.1V792.6H1119.7V797.7H1118.4V805.5H1117.0V805.7H1115.7V809.7H1114.3V809.7H1113.0V816.9H1111.6V818.1H1110.3V819.5H1108.9V832.1H1107.6V834.4H1106.2V834.4H1104.9V834.4H1103.5V831.3H1102.2V831.3H1100.8V831.3H1099.5V831.4H1098.1V831.4H1096.8V831.4H1095.4V833.3H1094.1V836.4H1092.7V836.7H1091.4V836.7H1090.0V836.7H1088.7V836.9H1087.3V836.9H1086.0V838.2H1084.6V838.2H1083.3V838.2H1081.9V838.2H1080.6V837.5H1079.2V837.5H1077.9V837.5H1076.5V837.5H1075.2V839.6H1073.8V839.6H1072.5V839.6H1071.1V839.6H1069.8V837.5H1068.4V837.7H1067.1V840.0H1065.7V840.6H1064.4V840.6H1063.0V840.6H1061.7V837.2H1060.3V838.0H1059.0V838.4H1057.6V838.4H1056.3V838.4H1054.9V838.4H1053.6V834.4H1052.2V832.5H1050.9V832.5H1049.5V832.3H1048.2V831.6H1046.8V834.9H1045.5V835.4H1044.1V835.4H1042.8V835.4H1041.4V835.4H1040.1V831.3H1038.7V831.3H1037.4V831.3H1036.0V829.8H1034.7V829.8H1033.3V829.8H1032.0V829.8H1030.6V828.9H1029.3V828.9H1027.9V828.7H1026.6V827.3H1025.2V827.3H1023.9V827.3H1022.5V827.3H1021.2V827.3H1019.8V824.8H1018.5V826.4H1017.1V826.4H1015.8V826.4H1014.4V826.4H1013.1V826.4H1011.7V826.3H1010.4V826.1H1009.0V822.2H1007.7V822.6H1006.3V822.6H1005.0V823.5H1003.6V823.5H1002.3V823.5H1000.9V823.5H999.6V823.1H998.2V824.9H996.9V824.9H995.5V824.9H994.2V824.9H992.8V822.5H991.5V822.5H990.1V821.6H988.8V821.6H987.4V821.5H986.1V821.5H984.7V821.5H983.4V817.8H982.0V817.8H980.7V816.2H979.3V816.3H978.0V816.3H976.6V817.5H975.3V817.5H973.9V817.5H972.6V818.2H971.2V818.2H969.9V818.2H968.5V818.2H967.2V815.4H965.8V815.0H964.5V815.0H963.1V815.5H961.8V815.5H960.4V815.8H959.1V815.8H957.7V815.8H956.4V815.9H955.0V815.9H953.7V815.9H952.3V815.9H951.0V814.4H949.6V814.4H948.3V814.2H946.9V814.2H945.6V811.7H944.2V811.0H942.9V811.0H941.5V811.0H940.2V811.0H938.8V810.8H937.5V810.5H936.1V810.5H934.8V810.5H933.4V810.5H932.1V808.2H930.7V808.4H929.4V808.4H928.0V809.3H926.7V809.3H925.3V809.6H924.0V809.6H922.6V809.6H921.3V808.7H919.9V806.5H918.6V805.5H917.2V805.5H915.9V805.5H914.5V806.8H913.2V810.6H911.8V810.6H910.5V810.6H909.1V809.8H907.8V804.5H906.4V804.5H905.1V804.7H903.7V804.7H902.4V804.7H901.0V804.7H899.7V802.8H898.3V804.6H897.0V804.6H895.6V804.6H894.3V804.6H892.9V801.8H891.6V801.8H890.2V801.8H888.9V797.4H887.5V797.4H886.2V801.1H884.8V801.1H883.5V801.1H882.1V801.1H880.8V798.3H879.4V798.3H878.1V798.5H876.7V798.5H875.4V798.5H874.0V799.6H872.7V799.6H871.3V799.6H870.0V799.6H868.6V800.4H867.3V800.4H865.9V800.4H864.6V800.4H863.2V800.3H861.9V800.3H860.5V800.3H859.2V798.5H857.8V798.5H856.5V798.5H855.1V797.9H853.8V800.9H852.4V800.9H851.1V800.9H849.7V800.9H848.4V799.6H847.0V799.6H845.7V799.6H844.3V797.5H843.0V796.9H841.6V796.9H840.3V797.2H838.9V797.2H837.6V797.2H836.2V797.2H834.9V796.6H833.5V796.6H832.2V796.6H830.8V796.4H829.5V796.4H828.1V796.4H826.8V796.4H825.4V796.9H824.1V796.9H822.7V796.9H821.4V796.9H820.0V796.6H818.7V796.6H817.3V796.6H816.0V797.9H814.6V797.9H813.3V802.1H811.9V802.1H810.6V802.1H809.2V802.1H807.9V800.7H806.5V800.7H805.2V800.7H803.8V800.0H802.5V800.0H801.1V797.7H799.8V800.7H798.4V800.7H797.1V800.7H795.7V800.7H794.4V808.5H793.0V808.5H791.7V808.5H790.3V808.5H789.0V799.6H787.6V801.2H786.3V801.2H784.9V801.2H783.6V801.2H782.2V799.0H780.9V799.0H779.5V799.4H778.2V800.9H776.8V801.3H775.5V802.3H774.1V802.8H772.8V802.8H771.4V802.8H770.1V802.8H768.7V801.2H767.4V801.2H766.0V801.2H764.7V801.2H763.3V801.1H762.0V801.7H760.6V801.7H759.3V801.7H757.9V800.2H756.6V803.6H755.2V803.6H753.9V803.6H752.5V803.6H751.2V803.2H749.8V803.2H748.5V803.2H747.1V805.0H745.8V805.0H744.4V805.0H743.1V805.0H741.7V803.4H740.4V803.4H739.0V803.3H737.7V803.9H736.3V803.9H735.0V803.9H733.6V803.9H732.3V801.6H730.9V801.6H729.6V803.6H728.2V803.6H726.9V803.6H725.5V803.6H724.2V801.7H722.8V803.0H721.5V805.3H720.1V805.3H718.8V805.3H717.4V805.3H716.1V803.3H714.7V803.3H713.4V803.3H712.0V801.5H710.7V797.3H709.3V797.3H708.0V796.9H706.6V796.9H705.3V796.9H703.9V793.3H702.6V790.4H701.2V790.6H699.9V790.6H698.5V790.6H697.2V790.6H695.8V791.8H694.5V791.8H693.1V794.9H691.8V798.0H690.4V798.0H689.1V798.0H687.7V798.0H686.4V797.0H685.0V802.2H683.7V802.2H682.3V803.3H681.0V803.3H679.6V803.8H678.3V805.3H676.9V806.8H675.6V807.5H674.2V807.5H672.9V807.5H671.5V808.0H670.2V809.4H668.8V809.4H667.5V809.4H666.1V809.4H664.8V807.3H663.4V807.3H662.1V808.5H660.7V808.5H659.4V808.5H658.0V808.5H656.7V807.1H655.3V809.0H654.0V809.0H652.6V809.0H651.3V809.0H649.9V809.4H648.6V809.4H647.2V809.4H645.9V809.4H644.5V808.6H643.2V808.6H641.8V808.4H640.5V811.0H639.1V811.0H637.8V811.0H636.4V811.0H635.1V808.5H633.7V808.5H632.4V808.7H631.0V808.9H629.7V809.1H628.3V809.1H627.0V809.1H625.6V809.1H624.3V807.0H622.9V809.1H621.6V809.1H620.2V809.1H618.9V809.1H617.5V809.2H616.2V809.8H614.8V809.8H613.5V809.8H612.1V809.8H610.8V808.3H609.4V808.3H608.1V808.3H606.7V808.3H605.4V808.0H604.0V807.7H602.7V807.7H601.3V807.7H600.0V807.5H598.6V807.5H597.3V807.5H595.9V807.5H594.6V807.0H593.2V807.7H591.9V807.7H590.5V809.1H589.2V809.1H587.8V809.1H586.5V809.4H585.1V810.6H583.8V810.6H582.4V810.6H581.1V810.6H579.7V808.4H578.4V808.4H577.0V808.5H575.7V808.5H574.3V808.5H573.0V808.6H571.6V808.6H570.3V808.6H568.9V808.6H567.6V809.4H566.2V809.4H564.9V810.0H563.5V810.0H562.2V810.0H560.8V809.3H559.5V809.3H558.1V809.3H556.8V809.3H555.4V809.3H554.1V809.3H552.7V809.5H551.4V809.5H550.0V809.5H548.7V810.7H547.3V810.7H546.0V812.8H544.6V813.0H543.3V813.0H541.9V813.0H540.6V811.4H539.2V811.4H537.9V810.5H536.5V810.7H535.2V812.4H533.8V812.4H532.5V812.4H531.1V812.4H529.8V808.8H528.4V809.8H527.1V809.8H525.7V809.8H524.4V809.8H523.0V809.4H521.7V809.7H520.3V810.9H519.0V810.9H517.6V810.9H516.3V810.9H514.9V811.1H513.6V811.1H512.2V811.1H510.9V811.1H509.5V810.8H508.2V810.8H506.8V809.8H505.5V810.0H504.1V810.0H502.8V810.0H501.4V810.1H500.1V810.1H498.7V810.1H497.4V810.1H496.0V811.8H494.7V811.8H493.3V811.8H492.0V811.8H490.6V810.1H489.3V810.1H487.9V810.1H486.6V809.2H485.2V807.9H483.9V807.9H482.5V807.9H481.2V810.0H479.8V810.0H478.5V810.0H477.1V810.0H475.8V806.0H474.4V807.6H473.1V807.6H471.7V807.6H470.4V808.3H469.0V808.3H467.7V808.3H466.3V808.3H465.0V803.1H463.6V802.8H462.3V802.8H460.9V802.8H459.6V803.3H458.2V803.3H456.9V803.3H455.5V803.3H454.2V800.7H452.8V799.3H451.5V799.0H450.1V799.0H448.8V799.0H447.4V799.7H446.1V799.7H444.7V799.7H443.4V799.7H442.0V798.4H440.7V798.3H439.3V798.3H438.0V799.3H436.6V799.3H435.3V799.3H433.9V799.3H432.6V794.0H431.2V794.1H429.9V794.8H428.5V794.8H427.2V794.8H425.8V794.8H424.5V792.9H423.1V791.4H421.8V791.4H420.4V791.2H419.1V791.2H417.7V791.2H416.4V788.7H415.0V791.0H413.7V791.0H412.3V791.0H411.0V791.0H409.6V789.4H408.3V789.4H406.9V789.4H405.6V785.5H404.2V785.5H402.9V785.2H401.5V785.2H400.2V783.0H398.8V782.6H397.5V782.2H396.1V782.2H394.8V780.1H393.4V782.9H392.1V782.9H390.7V782.9H389.4V782.9H388.0V777.6H386.7V777.6H385.3V777.6H384.0V777.5H382.6V775.1H381.3V775.1H379.9V775.1H378.6V773.1H377.2V769.6H375.9V769.6H374.5V769.6H373.2V768.7H371.8V765.0H370.5V762.7H369.1V762.7H367.8V762.7H366.4V761.0H365.1V757.5H363.7V751.7H362.4V751.7H361.0V750.3H359.7V747.3H358.3V747.3H357.0V747.3H355.6V739.3H354.3V739.3H352.9V739.3H351.6V731.8H350.2V730.0H348.9V728.0H347.5V721.0H346.2V721.0H344.8V718.3H343.5V718.3H342.1V712.5H340.8V708.1H339.4V703.9H338.1V703.2H336.7V697.7H335.4V694.8H334.0V685.1H332.7V683.0H331.3V672.4H330.0V660.0H328.6V654.4H327.3V643.1H325.9V633.3H324.6V628.0H323.2V612.1H321.9V611.0H320.5V599.8H319.2V587.4H317.8V580.2H316.5V575.3H315.1V561.4H313.8V554.6H312.4V539.3H311.1V538.7H309.7V527.0H308.4V516.7H307.0V511.0H305.7V500.8H304.3V487.7H303.0V479.9H301.6V473.3H300.3V467.3H298.9V461.8H297.6V460.8H296.2V465.5H294.9V473.2H293.5V473.9H292.2V483.7H290.8V490.3H289.5V496.0H288.1V502.1H286.8V511.7H285.4V519.5H284.1V530.6H282.7V536.4H281.4V544.6H280.0V552.3H278.7V563.5H277.3V569.2H276.0V573.9H274.6V581.4H273.3V593.2H271.9V599.5H270.6V599.5H269.2V607.5H267.9V611.1H266.5V614.3H265.2V620.9H263.8V621.6H262.5V625.2H261.1V625.2H259.8V626.8H258.4V631.0H257.1V635.1H255.7V637.0H254.4V637.5H253.0V640.8H251.7V642.0H250.3V645.9H249.0V646.7H247.6V653.0H246.3V653.4H244.9V653.4H243.6V653.4H242.2V657.5H240.9V657.5H239.5V658.5H238.2V659.6H236.8V661.5H235.5V664.8H234.1V667.0H232.8V667.0H231.4V671.3H230.1V676.3H228.7V676.3H227.4V676.3H226.0V676.7H224.7V676.7H223.3V676.7H222.0V676.7H220.6V674.4H219.3V674.4H217.9V675.9H216.6V678.4H215.2V678.4H213.9V679.6H212.5V679.6H211.2V679.6H209.8V679.6H208.5V679.4H207.1V679.4H205.8V679.4H204.4V679.5H203.1V680.3H201.7V680.3H200.4V680.9H199.0V682.1H197.7V682.1H196.3V682.7H195.0V682.7H193.6V682.7H192.3V682.7H190.9V684.3H189.6V684.3H188.2V684.3H186.9V684.3H185.5V680.5H184.2V679.5H182.8V681.6H181.5V681.6H180.1V681.6H178.8V681.3H177.4V676.9H176.1V676.9H174.7V676.6H173.4V676.6H172.0V674.8H170.7V674.3H169.3V674.3H168.0V674.3H166.6V674.2H165.3V672.9H163.9V673.2H162.6V673.2H161.2V673.2H159.9V673.2H158.5V669.9H157.2V669.9H155.8V668.0H154.5V665.8H153.1V667.0H151.8V667.0H150.4V667.0H149.1V665.9H147.7V664.8H146.4V662.1H145.0V662.1H143.7V661.1H142.3V661.1H141.0Z" fill="#ff0000" stroke="#ff0000" stroke-width="1.6" stroke-linejoin="round"/>
<path d="M141.0 820.8V820.8H142.3V820.8H143.7V820.8H145.0V820.8H146.4V820.8H147.7V824.0H149.1V824.0H150.4V827.9H151.8V832.3H153.1V831.4H154.5V831.4H155.8V831.4H157.2V831.4H158.5V837.6H159.9V844.1H161.2V843.6H162.6V843.6H163.9V843.6H165.3V844.5H166.6V848.4H168.0V850.7H169.3V850.7H170.7V850.7H172.0V851.7H173.4V855.3H174.7V855.3H176.1V855.3H177.4V855.3H178.8V856.6H180.1V856.6H181.5V863.2H182.8V863.8H184.2V868.9H185.5V870.8H186.9V871.9H188.2V871.9H189.6V870.5H190.9V870.5H192.3V870.5H193.6V870.5H195.0V875.7H196.3V877.6H197.7V878.3H199.0V878.3H200.4V881.5H201.7V881.5H203.1V881.5H204.4V882.8H205.8V887.3H207.1V887.4H208.5V887.4H209.8V887.6H211.2V890.6H212.5V890.9H213.9V890.9H215.2V895.7H216.6V895.8H217.9V897.3H219.3V897.3H220.6V897.3H222.0V898.2H223.3V898.2H224.7V898.8H226.0V902.8H227.4V902.8H228.7V902.8H230.1V904.3H231.4V906.1H232.8V906.2H234.1V906.2H235.5V906.3H236.8V909.1H238.2V909.1H239.5V910.1H240.9V910.1H242.2V912.9H243.6V912.9H244.9V912.9H246.3V912.9H247.6V915.8H249.0V916.2H250.3V916.9H251.7V917.6H253.0V918.2H254.4V920.1H255.7V920.1H257.1V920.1H258.4V922.7H259.8V922.8H261.1V922.8H262.5V923.5H263.8V921.1H265.2V921.1H266.5V921.1H267.9V921.1H269.2V924.4H270.6V926.0H271.9V926.0H273.3V926.0H274.6V928.1H276.0V929.8H277.3V931.8H278.7V931.8H280.0V931.9H281.4V929.2H282.7V929.2H284.1V929.2H285.4V929.2H286.8V934.1H288.1V934.1H289.5V936.2H290.8V937.9H292.2V937.9H293.5V938.4H294.9V938.4H296.2V940.2H297.6V940.2H298.9V943.4H300.3V943.4H301.6V943.7H303.0V943.7H304.3V945.5H305.7V945.7H307.0V947.9H308.4V947.9H309.7V947.9H311.1V945.5H312.4V945.5H313.8V945.5H315.1V945.5H316.5V947.8H317.8V946.9H319.2V946.2H320.5V946.2H321.9V946.2H323.2V946.6H324.6V948.1H325.9V948.1H327.3V948.1H328.6V951.4H330.0V945.9H331.3V945.9H332.7V945.9H334.0V945.9H335.4V949.2H336.7V954.6H338.1V954.6H339.4V954.2H340.8V953.8H342.1V953.8H343.5V953.8H344.8V953.8H346.2V955.4H347.5V955.9H348.9V956.8H350.2V956.8H351.6V956.8H352.9V957.1H354.3V957.1H355.6V957.1H357.0V957.5H358.3V956.0H359.7V953.9H361.0V953.9H362.4V953.9H363.7V953.9H365.1V962.8H366.4V962.7H367.8V960.1H369.1V960.1H370.5V960.1H371.8V960.1H373.2V961.6H374.5V960.9H375.9V960.9H377.2V960.9H378.6V960.9H379.9V965.0H381.3V962.3H382.6V962.3H384.0V962.3H385.3V962.3H386.7V966.0H388.0V968.8H389.4V967.5H390.7V967.5H392.1V967.5H393.4V967.5H394.8V971.1H396.1V971.1H397.5V971.1H398.8V971.1H400.2V973.2H401.5V973.2H402.9V975.3H404.2V975.3H405.6V975.3H406.9V979.8H408.3V979.8H409.6V979.8H411.0V980.3H412.3V981.3H413.7V983.6H415.0V983.6H416.4V983.6H417.7V983.6H419.1V988.4H420.4V988.4H421.8V987.5H423.1V987.5H424.5V987.5H425.8V987.5H427.2V990.0H428.5V990.0H429.9V992.3H431.2V992.8H432.6V995.4H433.9V995.4H435.3V995.7H436.6V995.7H438.0V995.7H439.3V995.7H440.7V998.4H442.0V997.4H443.4V997.4H444.7V997.4H446.1V997.4H447.4V997.8H448.8V997.8H450.1V997.8H451.5V1000.0H452.8V1000.7H454.2V1000.7H455.5V996.9H456.9V996.9H458.2V996.9H459.6V996.9H460.9V1001.8H462.3V1003.6H463.6V1005.8H465.0V1003.9H466.3V998.6H467.7V998.6H469.0V998.6H470.4V998.6H471.7V1002.1H473.1V1002.1H474.4V1002.6H475.8V1002.6H477.1V1001.9H478.5V1001.9H479.8V1001.9H481.2V1001.9H482.5V1003.6H483.9V999.3H485.2V999.3H486.6V999.3H487.9V999.3H489.3V1001.6H490.6V1001.6H492.0V1001.6H493.3V1001.8H494.7V1001.2H496.0V998.9H497.4V998.9H498.7V998.9H500.1V998.9H501.4V995.8H502.8V995.8H504.1V995.8H505.5V995.8H506.8V995.2H508.2V995.0H509.5V994.9H510.9V994.3H512.2V994.3H513.6V993.6H514.9V993.6H516.3V987.3H517.6V987.3H519.0V987.3H520.3V987.3H521.7V988.2H523.0V988.2H524.4V988.2H525.7V986.6H527.1V980.7H528.4V980.7H529.8V980.7H531.1V980.7H532.5V980.7H533.8V983.3H535.2V978.2H536.5V978.2H537.9V978.2H539.2V978.2H540.6V982.7H541.9V980.4H543.3V980.0H544.6V980.0H546.0V977.0H547.3V977.0H548.7V977.0H550.0V977.0H551.4V977.7H552.7V975.2H554.1V974.1H555.4V974.1H556.8V974.1H558.1V973.6H559.5V973.6H560.8V972.0H562.2V971.2H563.5V969.2H564.9V966.6H566.2V966.1H567.6V966.1H568.9V966.1H570.3V968.3H571.6V965.2H573.0V965.2H574.3V965.2H575.7V964.3H577.0V958.2H578.4V958.2H579.7V958.2H581.1V958.2H582.4V959.6H583.8V959.2H585.1V959.1H586.5V953.0H587.8V953.0H589.2V953.0H590.5V953.0H591.9V951.1H593.2V950.7H594.6V950.7H595.9V950.7H597.3V947.3H598.6V947.3H600.0V946.9H601.3V946.9H602.7V946.9H604.0V946.2H605.4V945.5H606.7V944.8H608.1V944.8H609.4V943.6H610.8V943.6H612.1V942.1H613.5V941.4H614.8V937.8H616.2V937.8H617.5V937.8H618.9V937.8H620.2V940.4H621.6V937.1H622.9V937.1H624.3V935.5H625.6V935.5H627.0V933.2H628.3V933.2H629.7V933.2H631.0V933.2H632.4V934.9H633.7V934.9H635.1V934.0H636.4V933.0H637.8V927.0H639.1V927.0H640.5V927.0H641.8V927.0H643.2V927.4H644.5V928.3H645.9V928.4H647.2V928.1H648.6V926.4H649.9V926.4H651.3V926.4H652.6V926.4H654.0V924.8H655.3V924.8H656.7V924.8H658.0V924.8H659.4V926.8H660.7V926.9H662.1V926.5H663.4V926.4H664.8V925.7H666.1V924.4H667.5V924.4H668.8V924.4H670.2V924.4H671.5V924.4H672.9V923.2H674.2V922.2H675.6V922.2H676.9V922.2H678.3V923.6H679.6V924.6H681.0V920.6H682.3V920.6H683.7V920.6H685.0V920.6H686.4V918.8H687.7V918.8H689.1V916.9H690.4V916.9H691.8V915.5H693.1V915.5H694.5V915.3H695.8V912.7H697.2V912.7H698.5V911.0H699.9V908.5H701.2V908.5H702.6V908.5H703.9V908.5H705.3V914.7H706.6V918.2H708.0V926.1H709.3V937.3H710.7V939.2H712.0V945.0H713.4V948.2H714.7V948.5H716.1V952.5H717.4V952.5H718.8V955.6H720.1V959.5H721.5V962.2H722.8V964.6H724.2V964.7H725.5V967.1H726.9V968.3H728.2V968.8H729.6V968.8H730.9V971.0H732.3V969.9H733.6V969.9H735.0V969.9H736.3V969.9H737.7V972.7H739.0V972.7H740.4V972.7H741.7V980.0H743.1V980.0H744.4V978.3H745.8V978.3H747.1V978.3H748.5V978.3H749.8V979.7H751.2V983.0H752.5V983.0H753.9V983.0H755.2V983.0H756.6V985.0H757.9V985.0H759.3V985.0H760.6V991.8H762.0V991.4H763.3V991.0H764.7V991.0H766.0V991.0H767.4V989.5H768.7V989.5H770.1V989.5H771.4V989.5H772.8V994.0H774.1V995.7H775.5V1000.8H776.8V1000.8H778.2V1000.8H779.5V999.0H780.9V999.0H782.2V999.0H783.6V999.0H784.9V1000.2H786.3V1000.2H787.6V1006.0H789.0V1006.0H790.3V1001.3H791.7V1001.3H793.0V1001.3H794.4V1001.3H795.7V1011.1H797.1V1012.9H798.4V1012.9H799.8V1013.7H801.1V1013.7H802.5V1013.7H803.8V1014.7H805.2V1014.7H806.5V1014.7H807.9V1011.2H809.2V1011.2H810.6V1011.2H811.9V1011.2H813.3V1017.0H814.6V1016.4H816.0V1016.4H817.3V1016.4H818.7V1017.4H820.0V1018.1H821.4V1018.1H822.7V1017.6H824.1V1017.6H825.4V1017.6H826.8V1017.6H828.1V1018.3H829.5V1018.3H830.8V1019.5H832.2V1019.5H833.5V1019.5H834.9V1026.1H836.2V1025.7H837.6V1025.7H838.9V1024.7H840.3V1024.7H841.6V1022.8H843.0V1022.8H844.3V1022.8H845.7V1022.8H847.0V1028.3H848.4V1029.0H849.7V1028.8H851.1V1026.2H852.4V1026.2H853.8V1026.2H855.1V1026.2H856.5V1027.3H857.8V1027.3H859.2V1033.6H860.5V1033.6H861.9V1036.6H863.2V1033.6H864.6V1032.0H865.9V1032.0H867.3V1032.0H868.6V1032.0H870.0V1039.2H871.3V1036.1H872.7V1036.1H874.0V1036.1H875.4V1036.1H876.7V1039.0H878.1V1039.0H879.4V1035.7H880.8V1035.7H882.1V1035.7H883.5V1035.7H884.8V1042.3H886.2V1044.0H887.5V1044.0H888.9V1045.2H890.2V1045.2H891.6V1045.2H892.9V1045.2H894.3V1045.2H895.6V1045.2H897.0V1046.1H898.3V1047.3H899.7V1047.3H901.0V1050.8H902.4V1050.8H903.7V1050.8H905.1V1051.0H906.4V1051.0H907.8V1051.4H909.1V1051.4H910.5V1051.4H911.8V1051.4H913.2V1051.7H914.5V1051.7H915.9V1053.2H917.2V1051.6H918.6V1051.5H919.9V1051.5H921.3V1051.5H922.6V1051.5H924.0V1053.9H925.3V1053.3H926.7V1053.3H928.0V1053.3H929.4V1053.3H930.7V1054.4H932.1V1049.9H933.4V1049.9H934.8V1049.9H936.1V1049.9H937.5V1054.3H938.8V1056.3H940.2V1056.3H941.5V1056.3H942.9V1056.3H944.2V1056.1H945.6V1056.1H946.9V1056.1H948.3V1056.1H949.6V1061.5H951.0V1057.3H952.3V1057.3H953.7V1057.3H955.0V1057.3H956.4V1062.7H957.7V1064.7H959.1V1063.7H960.4V1056.1H961.8V1056.1H963.1V1056.1H964.5V1056.1H965.8V1065.9H967.2V1067.1H968.5V1067.8H969.9V1062.6H971.2V1062.6H972.6V1062.6H973.9V1062.7H975.3V1066.3H976.6V1061.9H978.0V1061.9H979.3V1061.9H980.7V1061.9H982.0V1063.5H983.4V1067.3H984.7V1067.3H986.1V1067.3H987.4V1067.3H988.8V1069.3H990.1V1069.3H991.5V1067.8H992.8V1067.8H994.2V1067.8H995.5V1064.7H996.9V1064.7H998.2V1064.7H999.6V1064.7H1000.9V1068.1H1002.3V1068.0H1003.6V1068.0H1005.0V1068.0H1006.3V1068.0H1007.7V1069.1H1009.0V1069.1H1010.4V1065.7H1011.7V1065.7H1013.1V1065.7H1014.4V1065.7H1015.8V1070.9H1017.1V1070.9H1018.5V1071.5H1019.8V1071.7H1021.2V1071.7H1022.5V1071.7H1023.9V1071.6H1025.2V1071.6H1026.6V1071.6H1027.9V1068.8H1029.3V1068.8H1030.6V1068.8H1032.0V1068.8H1033.3V1073.7H1034.7V1078.9H1036.0V1078.0H1037.4V1076.7H1038.7V1076.4H1040.1V1070.9H1041.4V1070.9H1042.8V1070.9H1044.1V1070.9H1045.5V1077.0H1046.8V1076.4H1048.2V1075.7H1049.5V1075.2H1050.9V1075.2H1052.2V1075.2H1053.6V1076.0H1054.9V1076.0H1056.3V1073.3H1057.6V1073.3H1059.0V1073.3H1060.3V1073.3H1061.7V1072.2H1063.0V1068.4H1064.4V1068.4H1065.7V1068.4H1067.1V1068.4H1068.4V1069.6H1069.8V1072.3H1071.1V1071.5H1072.5V1071.5H1073.8V1071.0H1075.2V1071.0H1076.5V1071.0H1077.9V1070.3H1079.2V1070.3H1080.6V1070.3H1081.9V1070.3H1083.3V1072.0H1084.6V1072.0H1086.0V1069.8H1087.3V1069.8H1088.7V1069.8H1090.0V1070.6H1091.4V1071.0H1092.7V1070.6H1094.1V1068.2H1095.4V1068.2H1096.8V1067.0H1098.1V1067.0H1099.5V1067.0H1100.8V1067.0H1102.2V1068.9H1103.5V1071.9H1104.9V1067.6H1106.2V1067.2H1107.6V1067.2H1108.9V1067.2H1110.3V1063.8H1111.6V1063.8H1113.0V1060.7H1114.3V1051.8H1115.7V1051.8H1117.0V1051.8H1118.4V1051.8H1119.7V1045.2H1121.1V1042.3H1122.4V1042.3H1123.8V1042.3H1125.1V1042.3H1126.5V1042.9H1127.8V1039.1H1129.2V1033.0H1130.5V1032.2H1131.9V1024.5H1133.2V1024.5H1134.6V1019.9H1135.9V1019.9H1137.3V1019.9H1138.6V1019.9H1140.0V1021.0H1141.3V1021.0H1142.7V1019.0H1144.0V1019.0H1145.4V1019.0H1146.7V1019.0H1148.1V1020.5H1149.4V1020.5H1150.8V1020.5H1152.1V1030.5H1153.5V1031.4H1154.8V1031.4H1156.2V1035.1H1157.5V1034.6H1158.9V1034.6H1160.2V1034.6H1161.6V1034.6H1162.9V1037.7H1164.3V1044.9H1165.6V1044.9H1167.0V1045.3H1168.3V1043.2H1169.7V1043.2H1171.0V1043.2H1172.4V1043.2H1173.7V1051.0H1175.1V1054.8H1176.4V1056.1H1177.8V1055.8H1179.1V1055.2H1180.5V1055.2H1181.8V1055.2H1183.2V1055.2H1184.5V1062.3H1185.9V1056.7H1187.2V1056.7H1188.6V1056.7H1189.9V1056.7H1191.3V1058.9H1192.6V1058.9H1194.0V1058.9H1195.3V1062.6H1196.7V1062.6H1198.0V1066.8H1199.4V1066.8H1200.7V1066.8H1202.1V1069.0H1203.4V1069.0H1204.8V1067.4H1206.1V1067.4H1207.5V1067.4H1208.8V1067.4H1210.2V1068.0H1211.5V1068.0H1212.9V1068.0H1214.2V1065.7H1215.6V1065.7H1216.9V1065.7H1218.3V1065.7H1219.6V1070.2H1221.0V1070.2H1222.3V1075.4H1223.7V1074.0H1225.0V1074.0H1226.4V1074.0H1227.7V1074.0H1229.1V1075.9H1230.4V1081.1H1231.8V1082.3H1233.1V1081.9H1234.5V1079.8H1235.8V1079.8H1237.2V1079.8H1238.5V1076.2H1239.9V1075.9H1241.2V1075.9H1242.6V1075.9H1243.9V1076.8H1245.3V1076.8H1246.6V1080.1H1248.0V1081.0H1249.3V1085.5H1250.7V1086.5H1252.0V1083.5H1253.4V1083.5H1254.7V1083.5H1256.1V1083.5H1257.4V1086.5H1258.8V1086.5H1260.1V1086.7H1261.5V1089.7H1262.8V1087.7H1264.2V1087.7H1265.5V1087.7H1266.9V1087.7H1268.2V1087.7H1269.6V1087.7H1270.9V1081.3H1272.3V1081.3H1273.6V1081.3H1275.0V1081.3H1276.3V1090.8H1277.7V1091.3H1279.0V1095.1H1280.4V1095.1H1281.7V1089.8H1283.1V1089.8H1284.4V1089.8H1285.8V1089.8H1287.1V1094.3H1288.5V1094.3H1289.8V1089.2H1291.2V1089.2H1292.5V1089.2H1293.9V1089.2H1295.2V1093.1H1296.6V1093.1H1297.9V1092.7H1299.3V1092.7H1300.6V1092.7H1302.0V1092.7H1303.3V1091.6H1304.7V1091.6H1306.0V1091.6H1307.4V1091.6H1308.7V1090.6H1310.1V1088.1H1311.4V1088.1H1312.8V1088.1H1314.1V1088.1H1315.5V1096.8H1316.8V1096.3H1318.2V1096.0H1319.5V1096.0H1320.9V1096.0H1322.2V1097.4H1323.6V1099.2H1324.9V1098.6H1326.3V1098.6H1327.6V1095.4H1329.0V1095.4H1330.3V1095.4H1331.7V1095.4H1333.0V1094.5H1334.4V1094.5H1335.7V1094.5H1337.1V1094.5H1338.4V1097.1H1339.8V1097.7H1341.1V1094.3H1342.5V1094.3H1343.8V1094.3H1345.2V1094.3H1346.5V1095.5H1347.9V1088.0H1349.2V1088.0H1350.6V1088.0H1351.9V1088.0H1353.3V1096.2H1354.6V1096.2H1356.0V1096.2H1357.3V1096.2H1358.7V1097.8H1360.0V1092.4H1361.4V1092.4H1362.7V1092.4H1364.1V1092.4H1365.4V1098.0H1366.8V1098.0H1368.1V1098.2H1369.5V1102.1H1370.8V1101.5H1372.2V1101.5H1373.5V1101.5H1374.9V1101.5H1376.2V1101.7H1377.6V1102.3H1378.9V1102.3H1380.3V1102.3H1381.6V1094.2H1383.0V1094.1H1384.3V1094.1H1385.7V1094.1H1387.0V1099.0H1388.4V1099.0H1389.7V1099.0H1391.1V1098.6H1392.4V1098.6H1393.8V1098.6H1395.1V1098.6H1396.5V1099.1H1397.8V1099.1H1399.2V1099.1H1400.5V1099.1H1401.9V1099.6H1403.2V1099.8H1404.6V1102.7H1405.9V1102.7H1407.3V1100.9H1408.6V1100.9H1410.0V1100.8H1411.3V1100.8H1412.7V1100.8H1414.0V1098.6H1415.4V1098.6H1416.7V1098.6H1418.1V1098.6H1419.4V1101.9H1420.8V1101.9H1422.1V1101.9H1423.5V1104.7H1424.8V1104.7H1426.2V1105.4H1427.5V1105.4H1428.9V1102.9H1430.2V1102.9H1431.6V1100.5H1432.9V1100.5H1434.3V1100.5H1435.6V1100.5H1437.0V1102.8H1438.3V1104.2H1439.7V1105.2H1441.0V1105.2H1442.4V1103.0H1443.7V1102.0H1445.1V1102.0H1446.4V1100.8H1447.8V1100.8H1449.1V1100.8H1450.5V1100.8H1451.8V1105.4H1453.2V1105.4H1454.5V1105.4H1455.9V1106.4H1457.2V1106.4H1458.6V1104.8H1459.9V1104.8H1461.3V1103.2H1462.6V1103.2H1464.0V1103.2H1465.3V1105.4H1466.7V1105.6H1468.0V1106.8H1469.4V1106.8H1470.7V1106.8H1472.1V1106.8H1473.4V1107.1H1474.8V1107.1H1476.1V1107.1H1477.5V1107.1H1478.8V1106.1H1480.2V1106.1H1481.5V1106.1H1482.9V1106.1H1484.2V1108.5H1485.6V1108.5H1486.9V1108.5H1488.3V1109.0H1489.6V1109.0H1491.0V1109.0H1492.3V1109.0H1493.7V1109.6H1495.0V1109.5H1496.4V1108.7H1497.7V1108.7H1499.1V1108.7H1500.4V1110.3H1501.8V1110.1H1503.1V1110.1H1504.5V1110.1H1505.8V1105.2H1507.2V1105.2H1508.5V1105.2H1509.9V1105.2H1511.2V1108.1H1512.6V1107.7H1513.9V1107.7H1515.3V1107.7H1516.6V1107.7H1518.0V1108.8H1519.3V1109.8H1520.7V1111.6H1522.0V1111.6H1523.4V1111.6H1524.7V1113.3H1526.1V1113.3H1527.4V1113.3H1528.8V1114.0H1530.1V1114.3H1531.5V1114.3H1532.8V1114.3H1534.2V1112.9H1535.5V1111.1H1536.9V1108.2H1538.2V1108.2H1539.6V1108.2H1540.9V1108.2H1542.3V1109.0H1543.6V1109.0H1545.0V1109.0H1546.3V1114.9H1547.7V1114.9H1549.0V1114.9H1550.4V1114.9H1551.7V1115.6H1553.1V1113.3H1554.4V1113.3H1555.8V1113.3H1557.1V1113.3H1558.5V1113.5H1559.8V1113.5H1561.2V1113.5H1562.5V1113.5H1563.9V1112.1H1565.2V1111.2H1566.6V1105.7H1567.9V1105.7H1569.3V1105.7H1570.6V1105.7H1572.0V1112.3H1573.3V1112.3H1574.7V1112.3H1576.0V1112.3H1577.4V1115.1H1578.7V1115.8H1580.1V1115.8H1581.4V1112.7H1582.8V1112.4H1584.1V1112.4H1585.5V1112.4H1586.8V1114.2H1588.2V1114.2H1589.5V1114.2H1590.9V1114.2H1592.2V1117.8H1593.6V1115.2H1594.9V1115.2H1596.3V1115.2H1597.6V1115.2H1599.0V1116.5H1600.3V1120.3H1601.7V1120.1H1603.0V1120.1H1604.4V1119.3H1605.7V1118.2H1607.1V1117.8H1608.4V1117.8H1609.8V1114.7H1611.1V1114.7H1612.5V1114.7H1613.8V1114.7H1615.2V1115.4H1616.5V1116.0H1617.9V1116.0H1619.2V1118.9H1620.6V1118.9H1621.9V1119.4H1623.3V1113.1H1624.6V1113.1H1626.0V1113.1H1627.3V1113.1H1628.7V1115.7H1630.0V1118.4H1631.4V1120.1H1632.7V1120.1H1634.1V1120.1H1635.4V1118.8H1636.8V1115.0H1638.1V1115.0H1639.5V1115.0H1640.8V1115.0H1642.2V1118.1H1643.5V1119.6H1644.9V1121.7H1646.2V1121.7H1647.6V1121.7H1648.9V1121.7H1650.3V1120.5H1651.6V1120.5H1653.0V1120.5H1654.3V1119.0H1655.7V1119.0H1657.0V1118.4H1658.4V1118.4H1659.7V1118.4H1661.1V1118.4H1662.4V1120.9H1663.8V1120.9H1665.1V1123.2H1666.5V1123.6H1667.8V1120.5H1669.2V1120.5H1670.5V1120.5H1671.9V1120.5H1673.2V1120.5H1674.6V1120.5H1675.9V1120.5H1677.3V1123.3H1678.6V1123.3H1680.0V1123.3H1681.3V1123.4H1682.7V1123.4H1684.0V1123.4H1685.4V1123.8H1686.7V1123.8H1688.1V1120.6H1689.4V1120.6H1690.8V1120.6H1692.1V1120.6H1693.5V1122.4H1694.8V1122.4H1696.2V1122.4H1697.5V1123.7H1698.9V1122.7H1700.2V1121.1H1701.6V1121.1H1702.9V1121.1H1704.3V1121.1H1705.6V1122.1H1707.0V1123.0H1708.3V1122.8H1709.7V1122.8H1711.0V1122.8H1712.4V1122.8H1713.7V1124.0H1715.1V1124.1H1716.4V1124.1H1717.8V1124.1H1719.1V1124.5H1720.5V1124.6H1721.8V1126.1H1723.2V1126.1H1724.5V1126.1H1725.9V1126.1H1727.2V1126.2H1728.6V1126.2H1729.9V1126.2H1731.3V1126.2H1732.6V1126.7H1734.0V1126.7H1735.3V1126.3H1736.7V1126.3H1738.0V1126.3H1739.4V1123.3H1740.7V1123.2H1742.1V1122.1H1743.4V1122.1H1744.8V1122.1H1746.1V1122.1H1747.5V1124.1H1748.8V1126.2H1750.2V1126.2H1751.5V1126.2H1752.9V1127.1H1754.2V1127.1H1755.6V1127.1H1756.9V1123.1H1758.3V1123.1H1759.6V1123.1H1761.0V1123.3H1762.3V1125.1H1763.7V1125.1H1765.0V1125.1H1766.4V1124.9H1767.7V1124.9H1769.1V1124.9H1770.4V1124.9H1771.8V1127.1H1773.1V1127.1H1774.5V1127.7H1775.8V1127.2H1777.2V1127.0H1778.5V1127.0H1779.9V1127.0H1781.2V1127.0H1782.6V1130.2H1783.9V1129.6H1785.3V1129.6H1786.6V1129.6H1788.0V1127.5H1789.3V1127.5H1790.7V1127.5H1792.0V1127.5H1793.4V1128.5H1794.7V1128.2H1796.1V1128.2H1797.4V1127.0H1798.8V1127.0H1800.1V1127.0H1801.5V1125.4H1802.8V1125.4H1804.2V1125.4H1805.5V1125.4H1806.9V1125.5H1808.2V1125.5H1809.6V1125.5H1810.9V1129.5H1812.3V1129.5H1813.6V1129.5H1815.0V1129.5H1816.3V1129.8H1817.7V1130.3H1819.0V1125.2H1820.4V1125.2H1821.7V1125.2H1823.1V1124.7H1824.4V1123.3H1825.8V1123.3H1827.1V1123.3H1828.5V1125.0H1829.8V1128.8H1831.2V1128.8H1832.5V1128.8H1833.9V1128.8H1835.2V1132.9H1836.6V1132.9H1837.9V1128.8H1839.3V1128.8H1840.6V1128.8H1842.0V1125.7H1843.3V1125.7H1844.7V1125.7H1846.0V1125.7H1847.4V1132.8H1848.7V1128.5H1850.1V1128.5H1851.4V1128.5H1852.8V1128.5H1854.0V1153.8V1153.8H1852.8V1153.8H1851.4V1151.2H1850.1V1149.8H1848.7V1149.8H1847.4V1147.0H1846.0V1147.0H1844.7V1147.0H1843.3V1142.8H1842.0V1144.1H1840.6V1144.1H1839.3V1144.1H1837.9V1144.1H1836.6V1144.4H1835.2V1144.4H1833.9V1144.4H1832.5V1145.5H1831.2V1147.6H1829.8V1147.6H1828.5V1147.6H1827.1V1147.6H1825.8V1146.1H1824.4V1143.3H1823.1V1147.0H1821.7V1147.0H1820.4V1147.0H1819.0V1147.0H1817.7V1144.0H1816.3V1141.8H1815.0V1141.8H1813.6V1146.9H1812.3V1146.9H1810.9V1146.9H1809.6V1146.9H1808.2V1142.9H1806.9V1141.7H1805.5V1144.5H1804.2V1144.5H1802.8V1144.5H1801.5V1144.5H1800.1V1142.8H1798.8V1146.5H1797.4V1146.5H1796.1V1146.5H1794.7V1146.5H1793.4V1140.8H1792.0V1141.9H1790.7V1141.9H1789.3V1141.9H1788.0V1141.9H1786.6V1140.8H1785.3V1140.8H1783.9V1140.8H1782.6V1143.5H1781.2V1144.8H1779.9V1144.8H1778.5V1144.8H1777.2V1143.6H1775.8V1140.6H1774.5V1140.3H1773.1V1140.3H1771.8V1140.3H1770.4V1141.7H1769.1V1141.7H1767.7V1141.7H1766.4V1141.7H1765.0V1141.2H1763.7V1142.7H1762.3V1142.7H1761.0V1142.7H1759.6V1143.7H1758.3V1143.7H1756.9V1143.7H1755.6V1143.7H1754.2V1138.0H1752.9V1140.7H1751.5V1141.4H1750.2V1141.4H1748.8V1141.4H1747.5V1140.4H1746.1V1140.4H1744.8V1140.4H1743.4V1140.4H1742.1V1139.8H1740.7V1139.8H1739.4V1139.8H1738.0V1139.8H1736.7V1137.5H1735.3V1139.0H1734.0V1139.0H1732.6V1139.0H1731.3V1139.0H1729.9V1136.8H1728.6V1139.8H1727.2V1141.0H1725.9V1141.0H1724.5V1141.0H1723.2V1140.6H1721.8V1140.7H1720.5V1140.7H1719.1V1140.7H1717.8V1136.8H1716.4V1141.2H1715.1V1141.2H1713.7V1141.2H1712.4V1141.2H1711.0V1140.2H1709.7V1140.2H1708.3V1140.2H1707.0V1137.6H1705.6V1137.6H1704.3V1137.6H1702.9V1137.6H1701.6V1136.8H1700.2V1141.5H1698.9V1141.5H1697.5V1141.5H1696.2V1141.5H1694.8V1139.2H1693.5V1139.2H1692.1V1139.2H1690.8V1137.4H1689.4V1137.4H1688.1V1138.4H1686.7V1138.4H1685.4V1138.4H1684.0V1138.4H1682.7V1139.2H1681.3V1139.2H1680.0V1139.2H1678.6V1139.2H1677.3V1137.4H1675.9V1138.7H1674.6V1138.7H1673.2V1138.7H1671.9V1138.7H1670.5V1132.3H1669.2V1132.1H1667.8V1136.8H1666.5V1136.8H1665.1V1136.8H1663.8V1136.8H1662.4V1139.2H1661.1V1139.2H1659.7V1139.2H1658.4V1139.2H1657.0V1133.7H1655.7V1135.6H1654.3V1135.6H1653.0V1135.6H1651.6V1135.6H1650.3V1131.7H1648.9V1135.9H1647.6V1136.1H1646.2V1136.1H1644.9V1136.1H1643.5V1134.0H1642.2V1134.0H1640.8V1134.0H1639.5V1134.0H1638.1V1133.8H1636.8V1133.6H1635.4V1134.9H1634.1V1134.9H1632.7V1134.9H1631.4V1134.9H1630.0V1134.2H1628.7V1131.2H1627.3V1133.8H1626.0V1133.8H1624.6V1133.8H1623.3V1133.8H1621.9V1133.1H1620.6V1134.4H1619.2V1134.4H1617.9V1134.4H1616.5V1131.3H1615.2V1130.9H1613.8V1131.6H1612.5V1131.6H1611.1V1131.6H1609.8V1131.6H1608.4V1128.5H1607.1V1132.7H1605.7V1132.7H1604.4V1132.7H1603.0V1132.7H1601.7V1128.3H1600.3V1128.3H1599.0V1129.4H1597.6V1129.6H1596.3V1132.8H1594.9V1132.8H1593.6V1132.8H1592.2V1132.8H1590.9V1131.5H1589.5V1131.5H1588.2V1132.4H1586.8V1132.4H1585.5V1132.4H1584.1V1132.4H1582.8V1135.0H1581.4V1135.0H1580.1V1135.0H1578.7V1135.0H1577.4V1131.9H1576.0V1130.2H1574.7V1130.2H1573.3V1130.7H1572.0V1130.7H1570.6V1130.7H1569.3V1130.7H1567.9V1129.1H1566.6V1129.1H1565.2V1129.1H1563.9V1127.2H1562.5V1127.2H1561.2V1128.3H1559.8V1128.3H1558.5V1128.3H1557.1V1128.3H1555.8V1125.8H1554.4V1125.8H1553.1V1128.3H1551.7V1128.3H1550.4V1130.1H1549.0V1130.1H1547.7V1130.1H1546.3V1130.1H1545.0V1124.7H1543.6V1124.7H1542.3V1128.4H1540.9V1128.4H1539.6V1128.4H1538.2V1126.8H1536.9V1124.8H1535.5V1124.8H1534.2V1132.8H1532.8V1132.8H1531.5V1132.8H1530.1V1132.8H1528.8V1132.6H1527.4V1127.2H1526.1V1126.6H1524.7V1126.6H1523.4V1126.6H1522.0V1124.1H1520.7V1126.5H1519.3V1126.5H1518.0V1126.5H1516.6V1126.8H1515.3V1126.8H1513.9V1126.8H1512.6V1126.8H1511.2V1126.8H1509.9V1126.8H1508.5V1126.8H1507.2V1126.8H1505.8V1126.1H1504.5V1124.7H1503.1V1122.1H1501.8V1122.1H1500.4V1126.0H1499.1V1126.0H1497.7V1126.0H1496.4V1126.0H1495.0V1122.5H1493.7V1122.5H1492.3V1121.9H1491.0V1123.3H1489.6V1123.3H1488.3V1123.3H1486.9V1125.0H1485.6V1125.0H1484.2V1125.0H1482.9V1125.0H1481.5V1121.0H1480.2V1121.0H1478.8V1121.0H1477.5V1120.2H1476.1V1120.2H1474.8V1119.9H1473.4V1119.9H1472.1V1119.2H1470.7V1119.2H1469.4V1120.9H1468.0V1120.9H1466.7V1120.9H1465.3V1120.9H1464.0V1119.1H1462.6V1120.1H1461.3V1120.1H1459.9V1120.2H1458.6V1124.4H1457.2V1124.4H1455.9V1124.4H1454.5V1124.4H1453.2V1120.1H1451.8V1118.1H1450.5V1118.1H1449.1V1117.8H1447.8V1118.8H1446.4V1118.8H1445.1V1118.8H1443.7V1118.5H1442.4V1118.5H1441.0V1118.5H1439.7V1119.2H1438.3V1119.2H1437.0V1119.2H1435.6V1119.2H1434.3V1116.3H1432.9V1116.3H1431.6V1119.1H1430.2V1119.1H1428.9V1119.1H1427.5V1119.1H1426.2V1117.4H1424.8V1121.0H1423.5V1121.0H1422.1V1121.0H1420.8V1121.0H1419.4V1115.5H1418.1V1116.0H1416.7V1123.5H1415.4V1123.5H1414.0V1123.5H1412.7V1123.5H1411.3V1115.6H1410.0V1115.6H1408.6V1113.0H1407.3V1114.7H1405.9V1114.7H1404.6V1114.7H1403.2V1114.7H1401.9V1113.8H1400.5V1113.8H1399.2V1113.8H1397.8V1113.8H1396.5V1112.1H1395.1V1111.3H1393.8V1116.6H1392.4V1116.6H1391.1V1116.6H1389.7V1116.6H1388.4V1114.8H1387.0V1114.8H1385.7V1114.8H1384.3V1114.4H1383.0V1111.7H1381.6V1111.7H1380.3V1116.1H1378.9V1116.1H1377.6V1116.1H1376.2V1116.1H1374.9V1109.8H1373.5V1114.4H1372.2V1115.0H1370.8V1115.0H1369.5V1115.0H1368.1V1115.0H1366.8V1114.4H1365.4V1113.8H1364.1V1113.8H1362.7V1113.5H1361.4V1117.2H1360.0V1117.2H1358.7V1117.2H1357.3V1117.2H1356.0V1114.6H1354.6V1114.6H1353.3V1114.6H1351.9V1111.4H1350.6V1111.4H1349.2V1111.4H1347.9V1111.2H1346.5V1114.9H1345.2V1114.9H1343.8V1114.9H1342.5V1114.9H1341.1V1108.0H1339.8V1108.0H1338.4V1108.7H1337.1V1109.5H1335.7V1111.1H1334.4V1111.1H1333.0V1111.1H1331.7V1111.2H1330.3V1117.4H1329.0V1117.4H1327.6V1117.4H1326.3V1117.4H1324.9V1111.3H1323.6V1111.3H1322.2V1108.2H1320.9V1108.1H1319.5V1111.0H1318.2V1111.0H1316.8V1111.0H1315.5V1111.0H1314.1V1110.6H1312.8V1110.6H1311.4V1108.6H1310.1V1110.1H1308.7V1110.1H1307.4V1110.1H1306.0V1110.1H1304.7V1106.4H1303.3V1108.3H1302.0V1108.3H1300.6V1109.1H1299.3V1109.1H1297.9V1109.1H1296.6V1109.1H1295.2V1108.1H1293.9V1108.1H1292.5V1108.1H1291.2V1108.1H1289.8V1108.1H1288.5V1107.1H1287.1V1107.1H1285.8V1107.0H1284.4V1107.0H1283.1V1107.0H1281.7V1107.0H1280.4V1112.3H1279.0V1112.3H1277.7V1112.3H1276.3V1112.3H1275.0V1102.3H1273.6V1102.3H1272.3V1102.3H1270.9V1102.3H1269.6V1100.3H1268.2V1104.1H1266.9V1107.7H1265.5V1107.9H1264.2V1107.9H1262.8V1107.9H1261.5V1107.9H1260.1V1101.0H1258.8V1101.0H1257.4V1098.9H1256.1V1105.7H1254.7V1105.7H1253.4V1105.7H1252.0V1105.9H1250.7V1108.5H1249.3V1108.5H1248.0V1108.5H1246.6V1105.0H1245.3V1097.8H1243.9V1097.8H1242.6V1104.6H1241.2V1104.6H1239.9V1104.6H1238.5V1104.6H1237.2V1093.7H1235.8V1093.7H1234.5V1093.7H1233.1V1093.7H1231.8V1093.1H1230.4V1092.9H1229.1V1092.9H1227.7V1092.0H1226.4V1090.3H1225.0V1090.3H1223.7V1088.8H1222.3V1088.8H1221.0V1088.8H1219.6V1088.8H1218.3V1087.6H1216.9V1085.4H1215.6V1087.9H1214.2V1087.9H1212.9V1087.9H1211.5V1087.9H1210.2V1082.5H1208.8V1082.5H1207.5V1082.5H1206.1V1080.0H1204.8V1082.2H1203.4V1082.3H1202.1V1083.6H1200.7V1083.6H1199.4V1083.6H1198.0V1083.6H1196.7V1080.1H1195.3V1076.2H1194.0V1076.4H1192.6V1076.4H1191.3V1076.4H1189.9V1080.9H1188.6V1080.9H1187.2V1080.9H1185.9V1080.9H1184.5V1074.5H1183.2V1074.5H1181.8V1074.5H1180.5V1073.6H1179.1V1070.1H1177.8V1071.5H1176.4V1071.5H1175.1V1071.5H1173.7V1071.5H1172.4V1067.1H1171.0V1063.8H1169.7V1063.8H1168.3V1063.8H1167.0V1060.2H1165.6V1059.2H1164.3V1053.1H1162.9V1055.4H1161.6V1056.8H1160.2V1056.8H1158.9V1056.8H1157.5V1055.0H1156.2V1055.0H1154.8V1055.0H1153.5V1055.0H1152.1V1043.2H1150.8V1043.2H1149.4V1040.4H1148.1V1040.4H1146.7V1040.4H1145.4V1040.4H1144.0V1037.7H1142.7V1035.7H1141.3V1035.2H1140.0V1032.7H1138.6V1035.3H1137.3V1035.3H1135.9V1048.1H1134.6V1048.1H1133.2V1048.1H1131.9V1058.1H1130.5V1058.1H1129.2V1058.1H1127.8V1059.3H1126.5V1059.3H1125.1V1060.0H1123.8V1062.7H1122.4V1066.3H1121.1V1070.6H1119.7V1070.6H1118.4V1070.6H1117.0V1071.7H1115.7V1078.1H1114.3V1078.1H1113.0V1078.1H1111.6V1078.1H1110.3V1077.3H1108.9V1079.4H1107.6V1082.0H1106.2V1082.0H1104.9V1082.0H1103.5V1082.6H1102.2V1082.6H1100.8V1082.6H1099.5V1082.6H1098.1V1084.2H1096.8V1085.3H1095.4V1085.3H1094.1V1090.0H1092.7V1090.0H1091.4V1090.0H1090.0V1090.0H1088.7V1085.5H1087.3V1086.5H1086.0V1086.5H1084.6V1086.5H1083.3V1086.5H1081.9V1091.7H1080.6V1092.1H1079.2V1092.1H1077.9V1092.1H1076.5V1090.1H1075.2V1088.4H1073.8V1086.8H1072.5V1088.3H1071.1V1090.0H1069.8V1090.0H1068.4V1090.0H1067.1V1090.0H1065.7V1089.2H1064.4V1088.0H1063.0V1089.9H1061.7V1089.9H1060.3V1089.9H1059.0V1089.9H1057.6V1095.7H1056.3V1095.7H1054.9V1095.7H1053.6V1095.7H1052.2V1089.7H1050.9V1092.0H1049.5V1092.7H1048.2V1092.7H1046.8V1092.7H1045.5V1092.7H1044.1V1087.5H1042.8V1087.5H1041.4V1087.2H1040.1V1087.7H1038.7V1091.6H1037.4V1091.6H1036.0V1091.6H1034.7V1091.6H1033.3V1088.5H1032.0V1088.5H1030.6V1088.0H1029.3V1088.0H1027.9V1088.0H1026.6V1086.2H1025.2V1085.2H1023.9V1085.2H1022.5V1091.1H1021.2V1091.1H1019.8V1091.1H1018.5V1091.1H1017.1V1088.7H1015.8V1088.7H1014.4V1088.7H1013.1V1088.7H1011.7V1083.3H1010.4V1083.3H1009.0V1084.4H1007.7V1087.0H1006.3V1088.5H1005.0V1088.5H1003.6V1088.5H1002.3V1086.5H1000.9V1082.9H999.6V1082.9H998.2V1082.9H996.9V1087.8H995.5V1087.8H994.2V1087.8H992.8V1087.8H991.5V1085.3H990.1V1083.9H988.8V1082.8H987.4V1081.7H986.1V1081.7H984.7V1081.5H983.4V1081.5H982.0V1081.2H980.7V1081.2H979.3V1081.2H978.0V1081.2H976.6V1080.8H975.3V1080.8H973.9V1078.6H972.6V1078.1H971.2V1079.7H969.9V1082.1H968.5V1082.1H967.2V1082.1H965.8V1081.6H964.5V1076.9H963.1V1076.9H961.8V1076.9H960.4V1076.9H959.1V1076.9H957.7V1075.6H956.4V1075.6H955.0V1074.1H953.7V1074.1H952.3V1074.1H951.0V1073.9H949.6V1071.1H948.3V1075.2H946.9V1076.1H945.6V1076.1H944.2V1076.1H942.9V1073.7H941.5V1071.7H940.2V1072.1H938.8V1072.1H937.5V1072.1H936.1V1072.1H934.8V1068.8H933.4V1067.7H932.1V1069.9H930.7V1077.3H929.4V1077.3H928.0V1077.3H926.7V1077.3H925.3V1070.7H924.0V1070.7H922.6V1070.7H921.3V1064.4H919.9V1064.4H918.6V1064.4H917.2V1064.4H915.9V1061.9H914.5V1064.7H913.2V1069.7H911.8V1069.7H910.5V1069.7H909.1V1069.7H907.8V1066.8H906.4V1067.0H905.1V1067.8H903.7V1067.8H902.4V1067.8H901.0V1063.8H899.7V1061.4H898.3V1061.4H897.0V1055.7H895.6V1055.7H894.3V1055.7H892.9V1055.7H891.6V1055.3H890.2V1055.3H888.9V1058.7H887.5V1060.8H886.2V1060.8H884.8V1060.8H883.5V1060.8H882.1V1053.9H880.8V1055.7H879.4V1055.7H878.1V1056.1H876.7V1056.1H875.4V1056.1H874.0V1056.1H872.7V1054.8H871.3V1054.8H870.0V1050.6H868.6V1050.6H867.3V1050.6H865.9V1051.7H864.6V1051.7H863.2V1051.7H861.9V1051.7H860.5V1048.9H859.2V1050.2H857.8V1050.2H856.5V1050.2H855.1V1050.2H853.8V1046.3H852.4V1046.3H851.1V1043.6H849.7V1043.6H848.4V1043.7H847.0V1043.7H845.7V1043.7H844.3V1043.7H843.0V1039.8H841.6V1039.8H840.3V1037.9H838.9V1037.9H837.6V1036.9H836.2V1036.9H834.9V1036.9H833.5V1035.1H832.2V1036.1H830.8V1036.1H829.5V1036.1H828.1V1036.1H826.8V1032.2H825.4V1032.2H824.1V1032.2H822.7V1032.2H821.4V1032.2H820.0V1032.2H818.7V1031.6H817.3V1032.6H816.0V1032.6H814.6V1032.6H813.3V1032.6H811.9V1029.3H810.6V1029.3H809.2V1029.3H807.9V1026.4H806.5V1026.4H805.2V1026.9H803.8V1026.9H802.5V1026.9H801.1V1029.5H799.8V1029.5H798.4V1029.5H797.1V1029.5H795.7V1028.4H794.4V1028.4H793.0V1021.9H791.7V1021.9H790.3V1021.9H789.0V1021.6H787.6V1020.8H786.3V1020.8H784.9V1020.6H783.6V1019.4H782.2V1019.4H780.9V1018.2H779.5V1018.2H778.2V1018.2H776.8V1013.4H775.5V1009.9H774.1V1009.9H772.8V1009.9H771.4V1009.9H770.1V1008.1H768.7V1008.1H767.4V1007.0H766.0V1007.0H764.7V1007.0H763.3V1005.1H762.0V1005.1H760.6V1003.9H759.3V1003.9H757.9V1003.9H756.6V1003.5H755.2V1003.5H753.9V1003.5H752.5V1002.1H751.2V1002.1H749.8V1002.1H748.5V995.9H747.1V995.9H745.8V994.6H744.4V994.6H743.1V992.5H741.7V992.5H740.4V990.1H739.0V990.1H737.7V985.2H736.3V992.4H735.0V992.4H733.6V992.4H732.3V992.4H730.9V986.0H729.6V984.8H728.2V984.8H726.9V984.8H725.5V980.1H724.2V977.8H722.8V977.4H721.5V973.1H720.1V972.5H718.8V969.9H717.4V969.6H716.1V966.9H714.7V958.8H713.4V958.8H712.0V958.8H710.7V958.8H709.3V955.3H708.0V952.8H706.6V944.1H705.3V937.2H703.9V927.2H702.6V927.1H701.2V926.8H699.9V926.8H698.5V927.3H697.2V927.3H695.8V930.7H694.5V930.7H693.1V930.7H691.8V930.7H690.4V934.1H689.1V934.1H687.7V934.1H686.4V934.1H685.0V933.8H683.7V933.8H682.3V933.8H681.0V935.0H679.6V935.0H678.3V935.0H676.9V935.4H675.6V937.4H674.2V937.4H672.9V937.4H671.5V937.4H670.2V937.4H668.8V937.0H667.5V937.0H666.1V940.3H664.8V940.3H663.4V940.3H662.1V940.3H660.7V939.1H659.4V941.1H658.0V941.1H656.7V941.1H655.3V941.1H654.0V941.1H652.6V941.1H651.3V941.1H649.9V941.1H648.6V940.8H647.2V944.0H645.9V944.3H644.5V944.3H643.2V944.3H641.8V942.1H640.5V942.1H639.1V945.3H637.8V945.3H636.4V946.7H635.1V946.7H633.7V946.7H632.4V946.7H631.0V944.8H629.7V944.8H628.3V946.2H627.0V946.2H625.6V946.5H624.3V947.0H622.9V947.0H621.6V950.3H620.2V950.3H618.9V954.3H617.5V954.3H616.2V954.3H614.8V954.3H613.5V953.7H612.1V953.7H610.8V953.7H609.4V953.7H608.1V956.3H606.7V956.3H605.4V958.1H604.0V961.1H602.7V961.1H601.3V961.1H600.0V961.6H598.6V961.6H597.3V961.6H595.9V961.9H594.6V963.7H593.2V965.2H591.9V966.3H590.5V969.2H589.2V969.4H587.8V969.4H586.5V969.4H585.1V975.0H583.8V975.0H582.4V975.3H581.1V975.3H579.7V975.3H578.4V975.3H577.0V975.0H575.7V976.1H574.3V976.2H573.0V976.6H571.6V978.3H570.3V978.9H568.9V978.9H567.6V981.2H566.2V981.2H564.9V982.5H563.5V984.5H562.2V990.6H560.8V990.6H559.5V990.6H558.1V990.6H556.8V984.4H555.4V985.9H554.1V987.9H552.7V988.9H551.4V990.0H550.0V990.2H548.7V990.2H547.3V990.2H546.0V989.8H544.6V993.0H543.3V993.8H541.9V993.8H540.6V993.8H539.2V993.8H537.9V992.2H536.5V992.2H535.2V995.6H533.8V998.2H532.5V998.2H531.1V998.2H529.8V998.2H528.4V996.4H527.1V998.7H525.7V999.4H524.4V999.4H523.0V1002.7H521.7V1002.7H520.3V1002.7H519.0V1002.7H517.6V1000.8H516.3V1003.5H514.9V1003.5H513.6V1008.1H512.2V1008.1H510.9V1008.1H509.5V1008.9H508.2V1008.9H506.8V1011.6H505.5V1012.8H504.1V1012.8H502.8V1012.8H501.4V1010.7H500.1V1010.0H498.7V1010.0H497.4V1012.3H496.0V1017.7H494.7V1017.7H493.3V1017.7H492.0V1017.7H490.6V1013.8H489.3V1014.8H487.9V1014.8H486.6V1014.8H485.2V1017.4H483.9V1017.4H482.5V1017.4H481.2V1017.4H479.8V1015.8H478.5V1015.8H477.1V1016.4H475.8V1016.4H474.4V1016.9H473.1V1016.9H471.7V1016.9H470.4V1016.9H469.0V1015.1H467.7V1015.6H466.3V1015.6H465.0V1015.6H463.6V1015.6H462.3V1015.8H460.9V1015.8H459.6V1015.8H458.2V1015.8H456.9V1011.9H455.5V1011.9H454.2V1011.9H452.8V1011.9H451.5V1014.9H450.1V1014.9H448.8V1014.9H447.4V1014.9H446.1V1012.5H444.7V1010.1H443.4V1010.1H442.0V1011.3H440.7V1011.3H439.3V1011.3H438.0V1011.2H436.6V1008.0H435.3V1007.8H433.9V1007.8H432.6V1007.7H431.2V1007.7H429.9V1006.0H428.5V1006.0H427.2V1001.6H425.8V1001.5H424.5V1001.9H423.1V1001.9H421.8V1001.9H420.4V1001.9H419.1V999.2H417.7V999.2H416.4V999.2H415.0V998.4H413.7V998.4H412.3V996.3H411.0V996.3H409.6V995.9H408.3V995.9H406.9V995.9H405.6V994.6H404.2V992.5H402.9V992.5H401.5V992.5H400.2V990.2H398.8V983.3H397.5V986.4H396.1V986.4H394.8V986.4H393.4V986.2H392.1V984.0H390.7V982.6H389.4V980.9H388.0V980.2H386.7V980.2H385.3V979.6H384.0V979.6H382.6V980.5H381.3V980.5H379.9V980.5H378.6V980.5H377.2V979.1H375.9V978.5H374.5V976.8H373.2V974.9H371.8V974.9H370.5V974.0H369.1V974.9H367.8V975.0H366.4V975.0H365.1V975.0H363.7V975.0H362.4V972.4H361.0V969.4H359.7V969.4H358.3V969.4H357.0V970.8H355.6V971.2H354.3V971.2H352.9V971.2H351.6V970.7H350.2V969.5H348.9V968.7H347.5V968.1H346.2V967.2H344.8V971.8H343.5V972.0H342.1V972.0H340.8V972.0H339.4V972.0H338.1V966.2H336.7V966.2H335.4V966.4H334.0V967.7H332.7V968.6H331.3V968.6H330.0V968.6H328.6V967.1H327.3V967.1H325.9V960.7H324.6V960.7H323.2V959.6H321.9V959.6H320.5V961.3H319.2V962.9H317.8V962.9H316.5V962.9H315.1V962.9H313.8V961.8H312.4V961.8H311.1V961.8H309.7V960.3H308.4V960.3H307.0V960.3H305.7V956.5H304.3V959.0H303.0V963.0H301.6V963.0H300.3V963.0H298.9V963.0H297.6V955.3H296.2V954.4H294.9V954.8H293.5V954.8H292.2V955.7H290.8V955.7H289.5V955.7H288.1V955.7H286.8V947.7H285.4V947.7H284.1V947.7H282.7V943.0H281.4V945.2H280.0V947.9H278.7V947.9H277.3V947.9H276.0V947.9H274.6V942.9H273.3V940.3H271.9V940.3H270.6V940.3H269.2V940.3H267.9V935.8H266.5V935.8H265.2V935.7H263.8V935.7H262.5V935.2H261.1V935.2H259.8V935.0H258.4V934.6H257.1V934.6H255.7V934.6H254.4V933.7H253.0V933.7H251.7V931.5H250.3V931.5H249.0V931.5H247.6V932.4H246.3V932.4H244.9V932.4H243.6V932.4H242.2V925.6H240.9V924.7H239.5V924.7H238.2V924.7H236.8V923.8H235.5V923.8H234.1V920.3H232.8V920.3H231.4V917.7H230.1V917.1H228.7V917.1H227.4V915.7H226.0V913.4H224.7V913.4H223.3V913.4H222.0V913.4H220.6V912.7H219.3V912.7H217.9V912.7H216.6V908.4H215.2V908.4H213.9V908.4H212.5V907.4H211.2V907.4H209.8V907.4H208.5V898.3H207.1V897.0H205.8V895.9H204.4V895.9H203.1V895.9H201.7V898.0H200.4V898.0H199.0V898.0H197.7V898.0H196.3V894.7H195.0V894.7H193.6V894.7H192.3V892.0H190.9V892.0H189.6V887.7H188.2V887.7H186.9V880.3H185.5V880.3H184.2V880.3H182.8V878.1H181.5V878.1H180.1V876.4H178.8V876.4H177.4V878.2H176.1V878.2H174.7V878.2H173.4V875.0H172.0V867.0H170.7V864.6H169.3V863.7H168.0V861.3H166.6V861.3H165.3V859.0H163.9V857.8H162.6V857.8H161.2V861.4H159.9V862.4H158.5V862.4H157.2V862.4H155.8V855.8H154.5V852.0H153.1V852.0H151.8V845.9H150.4V845.9H149.1V840.1H147.7V840.1H146.4V840.1H145.0V840.1H143.7V832.3H142.3V830.3H141.0Z" fill="#0000ff" stroke="#0000ff" stroke-width="1.6" stroke-linejoin="round"/>
<polygon points="702.9,172.8 708,172.8 710.8,200 711.8,265 712.5,330 699.8,330 700.1,200" fill="#000"/>
<line x1="297.6" y1="173.1" x2="297.6" y2="1197" stroke="#ad2626" stroke-width="5" stroke-dasharray="10.5 5.44"/>
<line x1="364.7" y1="170.8" x2="364.7" y2="1197" stroke="#0c0c8e" stroke-width="3.2" stroke-dasharray="10.5 5.44"/>
<line x1="667.2" y1="170.8" x2="667.2" y2="1197" stroke="#0c0c8e" stroke-width="3.2" stroke-dasharray="10.5 5.44"/>
<line x1="705.5" y1="173.1" x2="705.5" y2="1197" stroke="#000" stroke-width="5.4" stroke-dasharray="10.5 5.44"/>
<line x1="1127.2" y1="173.1" x2="1127.2" y2="1197" stroke="#000" stroke-width="5.4" stroke-dasharray="10.5 5.44"/>
<line x1="1182.2" y1="173.1" x2="1182.2" y2="1197" stroke="#000" stroke-width="5.4" stroke-dasharray="10.5 5.44"/>
<line x1="1446.8" y1="173.1" x2="1446.8" y2="1197" stroke="#000" stroke-width="5.4" stroke-dasharray="10.5 5.44"/>
<circle cx="297.4" cy="141" r="20.5" fill="#ff0000" stroke="#300" stroke-width="1.5"/>
<rect x="686" y="120.5" width="41.3" height="40.9" fill="#000"/>
<rect x="1108.3" y="120.5" width="40.9" height="40.9" fill="#000"/>
<rect x="1163" y="123.2" width="38.6" height="38.2" fill="#000"/>
<rect x="1425.2" y="120.5" width="40.8" height="40.9" fill="#000"/>
<text x="0" y="0" transform="translate(239.7,243.3) rotate(-90)" text-anchor="middle" dominant-baseline="central" font-size="61" fill="#d61818">(002)</text>
<text x="0" y="0" transform="translate(760.9,243) rotate(-90)" text-anchor="middle" dominant-baseline="central" font-size="61" fill="#000">(002)</text>
<text x="0" y="0" transform="translate(1068.1,243.3) rotate(-90)" text-anchor="middle" dominant-baseline="central" font-size="61" fill="#000">(100)</text>
<text x="0" y="0" transform="translate(1233.3,238.7) rotate(-90)" text-anchor="middle" dominant-baseline="central" font-size="61" fill="#000">(101)</text>
<text x="0" y="0" transform="translate(1498.1,238.8) rotate(-90)" text-anchor="middle" dominant-baseline="central" font-size="61" fill="#000">(004)</text>
<text x="512" y="255.8" text-anchor="middle" font-size="62" fill="#d61818">graphite</text>
<text x="512" y="332" text-anchor="middle" font-size="62" fill="#d61818">oxidation</text>
<line x1="300" y1="279" x2="702.5" y2="279" stroke="#d01818" stroke-width="2.5"/>
<polyline points="322,270 299,279 322,288.4" fill="none" stroke="#d01818" stroke-width="2.5"/>
<line x1="298" y1="892.2" x2="366" y2="892.2" stroke="#1a1ab4" stroke-width="2.5"/>
<polyline points="350.3,882.6 367,892.2 350.3,902.9" fill="none" stroke="#1a1ab4" stroke-width="2.5"/>
<line x1="298" y1="1047" x2="663" y2="1047" stroke="#1a1ab4" stroke-width="2.5"/>
<polyline points="643.3,1036.3 664,1047 643.3,1056.5" fill="none" stroke="#1a1ab4" stroke-width="2.5"/>
<text x="504" y="1103" text-anchor="middle" font-size="62" fill="#0808c0">GO</text>
<text x="504" y="1178" text-anchor="middle" font-size="62" fill="#0808c0">reduction</text>
<text x="1688" y="627.8" text-anchor="middle" font-size="68" fill="#000">Graphite</text>
<text x="1667" y="858" text-anchor="middle" font-size="68" fill="#d81414">GO</text>
<text x="1674" y="1077" text-anchor="middle" font-size="68" fill="#0808c0">rGO</text>
<rect x="424" y="38" width="41" height="39" fill="#000"/>
<text x="484" y="71" font-size="68" fill="#000">Graphite</text>
<circle cx="818" cy="58" r="20.5" fill="#ff0000" stroke="#300" stroke-width="1.5"/>
<text x="858" y="71" font-size="67.4" fill="#000">Graphene oxide</text>
<text x="764.5" y="1393" font-size="81" fill="#000">2</text>
<text x="0" y="0" transform="translate(808.9,1393.5) scale(1.2,1)" font-size="81" fill="#000" style="font-family:'Liberation Serif', serif">θ</text>
<text x="0" y="0" transform="translate(877.4,1393) scale(1.02,1)" font-size="81" fill="#000">(degree)</text>
<text transform="translate(87,557.5) rotate(-90)" x="0" y="0" text-anchor="middle" font-size="80" fill="#000" textLength="524" lengthAdjust="spacingAndGlyphs">Intensity (a.u.)</text>
<rect x="238.56" y="1293.92" width="13.42" height="7.28" fill="#fff"/><rect x="257.39" y="1293.92" width="12.89" height="7.28" fill="#fff"/>
<g transform="translate(1068.1,243.3) rotate(-90)"><rect x="-47.44" y="15.64" width="12.19" height="6.76" fill="#fff"/><rect x="-30.46" y="15.64" width="11.72" height="6.76" fill="#fff"/></g>
<g transform="translate(1233.3,238.7) rotate(-90)"><rect x="-47.44" y="15.64" width="12.19" height="6.76" fill="#fff"/><rect x="-30.46" y="15.64" width="11.72" height="6.76" fill="#fff"/><rect x="20.40" y="15.64" width="12.19" height="6.76" fill="#fff"/><rect x="37.38" y="15.64" width="11.72" height="6.76" fill="#fff"/></g>
</svg>
</body></html>
